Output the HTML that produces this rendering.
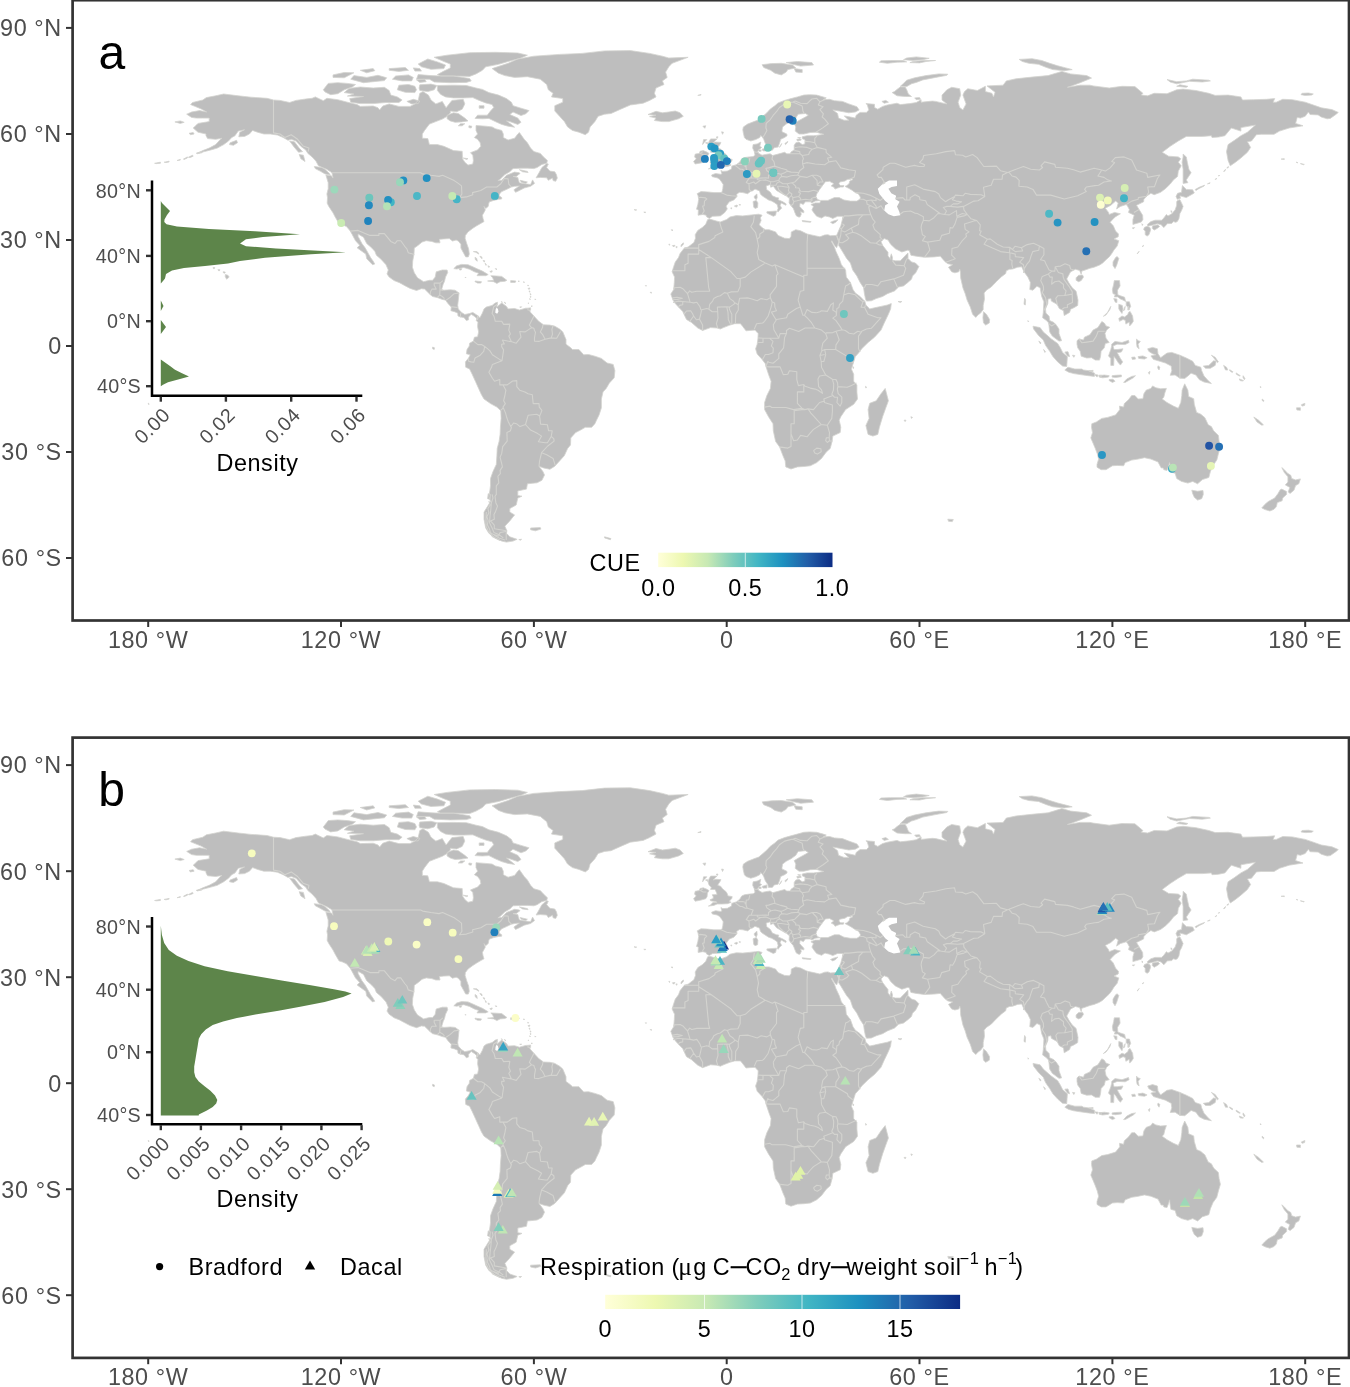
<!DOCTYPE html>
<html lang="en"><head><meta charset="utf-8"><title>Global sampling maps</title>
<style>html,body{margin:0;padding:0;background:#fff}body{width:1350px;height:1387px;overflow:hidden}svg{display:block}text{font-family:"Liberation Sans",Arial,Helvetica,sans-serif;letter-spacing:0.6px}</style>
</head><body>
<svg width="1350" height="1387" viewBox="0 0 1350 1387">
<defs>
<g id="world"><path d="M186.7 114.2L191.6 112.0L199.6 110.6L206.7 112.0L201.2 108.9L190.6 104.6L192.5 102.5L202.8 100.0L206.4 97.6L215.7 95.8L223.7 94.0L238.2 95.8L251.0 97.2L267.1 98.3L273.5 100.0L280.0 100.4L289.6 102.5L296.0 100.4L305.7 99.0L312.1 98.3L315.3 96.9L323.3 100.7L326.9 98.3L337.8 99.7L347.4 102.2L357.1 104.6L360.3 106.4L373.2 106.0L378.0 107.8L379.6 109.9L382.8 106.0L389.2 103.9L398.9 106.4L410.1 106.4L414.9 103.9L418.2 100.4L419.8 93.3L423.0 91.6L428.4 95.1L431.0 100.0L435.8 103.9L442.3 101.4L446.1 107.8L451.9 100.4L463.2 99.3L464.8 103.9L462.2 109.2L456.7 111.7L450.3 111.0L450.3 112.8L447.1 116.3L442.3 119.1L435.8 121.6L429.4 124.1L424.6 130.4L422.3 134.0L422.3 138.2L427.8 138.6L429.4 144.6L437.4 144.6L443.9 146.3L453.5 150.6L462.2 151.3L462.5 158.7L464.8 162.2L468.0 165.1L472.8 164.0L473.4 160.5L472.8 155.2L470.5 152.7L477.6 149.9L480.8 146.3L480.2 142.8L477.6 139.3L474.4 137.5L477.6 134.0L476.0 130.4L476.0 125.5L485.7 126.2L492.1 126.9L495.3 128.7L501.7 130.4L503.3 134.0L503.3 137.5L508.1 140.0L514.6 138.2L517.8 134.0L519.4 132.5L524.2 139.3L527.4 142.8L530.6 148.1L533.9 151.6L540.3 153.4L543.5 156.9L547.4 160.5L546.7 163.3L541.9 164.4L537.1 167.5L533.9 168.6L527.4 168.2L521.0 168.2L513.0 168.6L509.8 171.8L504.9 174.6L500.1 179.2L497.9 180.6L501.7 180.3L506.5 175.3L514.6 172.1L519.4 172.8L520.0 173.5L516.2 176.4L513.0 176.4L517.8 177.4L518.4 179.9L519.4 182.7L522.6 183.4L527.4 184.1L530.6 184.5L532.6 179.9L534.5 183.4L530.6 186.3L524.2 188.0L519.4 190.5L515.5 192.3L513.9 189.8L519.4 185.9L514.6 186.3L511.4 187.0L506.5 189.4L501.7 191.6L499.5 194.0L499.1 195.8L501.7 197.6L501.7 199.0L498.5 199.3L493.7 200.4L489.5 201.8L488.9 202.9L488.2 206.4L485.7 208.5L484.0 206.4L485.3 209.9L484.0 212.4L482.4 215.2L483.1 218.8L484.0 221.6L480.8 223.4L476.7 225.8L472.8 228.3L468.0 231.9L465.4 235.4L465.1 238.2L466.7 243.5L468.6 248.8L469.3 254.1L468.3 256.9L465.7 256.9L463.8 253.4L460.9 248.1L460.9 244.2L458.3 241.0L456.1 240.0L452.5 241.0L449.3 238.6L443.9 238.9L439.4 239.3L440.0 242.8L435.8 242.8L431.7 241.4L426.2 240.7L422.0 242.1L418.2 245.3L414.3 248.1L414.0 254.1L412.7 261.2L412.4 267.2L414.3 272.8L417.5 277.8L421.4 280.3L423.6 281.7L429.4 280.3L432.6 280.3L435.2 277.1L436.2 271.8L442.3 270.0L447.1 270.0L447.7 272.5L445.5 277.1L444.5 281.3L443.2 284.2L441.6 289.5L443.9 290.2L450.3 289.8L455.1 290.2L459.0 293.0L458.3 300.1L457.7 305.4L458.3 308.9L461.5 312.4L464.8 314.5L469.6 313.5L472.8 312.4L476.7 314.9L478.3 316.0L477.6 319.5L475.0 316.7L471.2 314.2L468.6 317.0L468.6 319.8L466.4 320.6L464.1 317.7L459.9 316.7L458.0 316.0L457.7 313.1L454.5 311.7L450.9 310.7L451.3 307.1L448.0 303.6L445.5 300.1L442.3 299.4L437.4 297.6L432.6 296.5L430.0 294.4L424.6 289.1L421.4 288.7L416.5 290.5L410.1 288.4L405.3 285.9L399.5 282.7L394.1 280.6L389.2 277.1L387.0 273.9L388.3 270.0L386.0 264.7L381.2 259.4L376.4 255.2L374.8 251.3L371.6 247.8L366.7 243.5L363.5 237.2L358.1 234.0L358.1 236.4L361.9 243.5L365.1 247.8L368.3 253.4L370.6 257.6L373.2 261.2L374.8 264.0L372.5 264.7L366.7 258.7L365.8 254.1L361.9 251.3L357.1 247.8L359.7 245.3L355.5 240.7L352.3 234.7L350.3 231.1L346.5 226.6L342.6 224.8L339.1 223.7L335.2 217.0L333.0 212.8L328.8 206.4L327.2 203.2L327.5 197.6L326.9 194.0L328.2 188.7L328.2 182.7L325.9 175.0L331.4 175.7L333.0 178.1L332.0 172.8L330.7 171.8L326.6 169.3L318.5 165.8L316.0 161.2L312.1 156.9L307.9 153.4L305.7 149.9L300.8 146.3L296.0 141.0L291.2 139.3L288.0 140.3L283.2 137.5L277.4 135.0L270.3 134.0L263.9 134.0L257.5 132.2L252.6 130.4L249.4 134.0L244.6 136.4L238.8 136.8L239.8 132.2L244.6 129.7L238.2 131.1L235.0 135.7L231.7 137.5L228.5 141.0L223.7 144.6L217.3 148.1L210.9 149.9L204.4 151.6L198.0 153.0L202.8 150.6L209.2 148.1L215.7 144.6L220.5 139.3L222.1 138.2L215.7 139.3L207.6 138.6L206.0 135.7L206.0 134.0L198.0 132.2L193.2 128.0L196.4 125.1L198.0 123.4L209.2 121.6L209.2 118.1L202.8 118.1L196.4 118.1L191.6 117.4ZM492.1 68.6L508.1 63.3L517.8 59.0L533.9 56.2L559.6 54.4L582.1 53.4L604.6 50.9L630.3 50.6L649.6 53.4L662.4 56.2L668.8 58.0L688.1 57.3L672.1 63.3L668.8 66.8L665.6 72.1L667.2 77.4L662.4 80.9L664.0 84.5L656.0 88.0L654.4 93.3L656.0 96.9L649.6 100.4L643.1 103.2L630.3 105.0L620.6 109.2L611.0 113.5L604.6 114.2L598.1 116.3L594.9 121.6L590.1 126.9L588.5 132.2L585.3 134.7L578.9 132.2L572.4 130.4L567.6 126.9L564.4 121.6L559.6 116.3L554.8 111.0L554.8 105.7L562.8 102.2L562.8 98.6L551.5 96.9L553.1 93.3L548.3 89.8L546.7 84.5L540.3 79.2L527.4 76.7L514.6 77.4L504.9 75.6L498.5 73.2ZM648.0 114.5L656.0 111.3L662.4 112.8L668.8 112.0L675.3 111.0L680.1 112.8L683.3 116.3L678.5 118.8L668.8 121.6L662.4 121.6L654.4 120.5L656.0 118.1L649.6 116.6L656.0 115.2ZM478.3 316.0L479.9 317.7L482.4 313.1L484.0 308.9L486.3 307.1L492.1 305.4L495.3 302.9L497.5 302.2L496.9 307.1L501.7 302.9L506.5 306.4L508.1 308.9L514.6 308.5L519.4 310.0L525.8 308.2L528.1 308.2L530.6 312.4L533.9 316.0L538.7 321.3L543.5 324.8L549.9 325.1L554.8 326.2L559.6 329.0L562.8 331.9L566.0 339.6L566.0 344.2L570.8 347.8L572.4 349.5L578.9 349.5L583.7 354.8L588.5 354.5L594.9 356.2L601.4 358.4L607.1 363.0L613.2 364.4L614.9 370.7L614.2 377.8L609.4 383.1L606.2 388.4L603.0 391.9L601.4 399.0L601.4 407.8L599.1 414.9L596.5 420.2L594.9 423.7L591.7 427.3L585.3 427.3L580.5 430.1L575.6 432.6L570.8 437.9L570.5 445.0L567.6 448.5L564.4 455.6L559.6 460.9L554.8 466.2L549.9 469.3L543.5 467.9L539.0 466.2L542.9 471.5L544.5 475.0L541.9 480.3L537.1 482.8L527.4 483.8L526.5 489.1L517.8 490.9L517.8 495.5L522.0 496.2L517.8 498.0L516.2 505.0L509.8 508.6L509.8 512.1L514.6 514.9L509.8 520.9L504.9 526.2L506.9 530.8L506.5 533.3L509.8 536.8L517.1 539.3L513.0 541.1L506.5 542.1L501.7 541.1L495.3 537.9L488.9 533.3L485.7 528.0L484.0 519.2L484.0 512.1L487.3 506.8L490.5 501.5L488.9 496.2L489.8 490.9L490.5 485.6L490.5 478.5L493.0 471.5L496.3 464.4L496.9 455.6L497.2 448.5L499.1 441.4L500.1 434.4L500.4 427.3L501.1 418.4L500.8 410.7L496.9 407.1L490.5 403.6L484.0 399.0L481.5 394.8L478.6 388.4L475.4 381.3L472.2 374.3L469.6 369.0L465.7 367.2L465.4 361.9L468.6 358.0L470.2 354.8L466.4 353.8L467.0 349.5L469.3 346.0L469.6 343.2L473.4 341.1L474.4 337.2L477.6 336.8L478.6 331.9L477.6 326.6L477.9 322.3L476.3 320.6L477.6 319.5ZM707.7 219.5L709.7 219.1L717.1 221.2L720.3 222.0L726.7 219.5L729.9 217.0L736.3 215.6L742.8 215.9L749.2 215.2L755.6 214.5L758.8 214.2L762.1 215.2L760.4 217.7L761.1 220.5L759.2 224.8L762.1 227.6L765.3 229.7L769.1 229.7L775.6 231.9L778.1 235.4L784.6 238.2L789.4 238.6L791.0 236.4L791.3 231.9L795.8 229.7L800.6 230.8L807.1 234.0L813.5 235.4L819.9 236.8L824.7 235.0L827.9 234.7L830.5 235.7L836.6 235.4L838.9 241.7L836.6 247.8L834.4 245.3L831.8 240.7L831.5 241.7L834.4 247.0L836.0 251.6L839.2 258.4L841.4 264.7L845.6 270.0L846.3 277.1L850.4 282.4L853.0 289.5L855.3 293.0L860.1 296.5L864.9 301.5L865.9 305.0L869.7 308.9L874.5 307.8L881.0 306.4L887.4 305.0L891.3 303.6L890.6 308.9L888.4 314.2L884.2 323.0L881.0 330.1L874.5 337.2L868.1 342.5L861.7 348.8L858.5 353.1L855.3 356.6L853.7 361.9L851.4 369.0L853.7 374.3L853.7 381.3L856.9 384.9L856.9 391.9L857.5 399.0L853.7 404.3L845.6 409.6L840.8 416.7L839.2 420.2L840.8 427.3L840.2 432.6L832.8 436.1L832.1 441.4L830.2 448.5L826.3 452.0L821.5 458.4L816.7 462.6L810.3 465.8L803.8 466.5L797.4 466.9L791.0 469.0L785.8 466.9L785.2 460.9L782.9 455.6L779.7 447.1L775.6 441.4L773.3 430.8L773.0 423.7L768.5 416.7L764.6 409.6L764.6 402.5L766.9 395.5L770.4 388.4L771.1 381.3L768.5 374.3L766.2 367.2L765.3 363.7L762.1 359.4L757.2 354.1L755.6 348.8L757.2 344.2L757.9 338.9L758.2 333.6L755.0 330.1L749.2 330.5L746.0 330.8L742.8 326.6L740.5 323.7L734.7 323.7L729.9 325.1L723.5 327.6L720.3 329.0L717.1 328.0L710.6 327.6L702.6 330.5L697.8 328.0L691.3 322.3L686.5 319.5L684.3 314.9L682.7 311.4L678.5 307.1L675.3 303.6L673.0 300.1L670.8 294.1L673.7 289.5L674.3 282.4L674.6 277.1L672.1 271.8L673.7 266.5L675.3 261.9L678.5 257.6L680.1 253.4L684.3 248.1L688.1 247.0L693.9 242.5L695.5 238.2L695.2 234.7L697.8 230.4L702.6 227.3L705.8 224.1ZM885.2 388.4L888.4 400.8L885.8 407.8L882.6 416.7L879.4 427.3L877.8 434.4L872.9 436.1L868.1 434.4L865.9 425.5L869.1 418.4L868.1 409.6L869.7 403.3L876.2 400.8L881.0 393.7ZM836.6 235.4L838.5 231.1L840.8 225.8L842.4 219.5L843.0 216.3L837.6 216.3L832.8 218.4L829.5 217.0L825.0 215.9L821.5 218.1L816.7 216.3L814.4 213.5L811.9 209.9L813.5 206.4L810.9 204.6L815.1 202.9L819.9 202.9L820.5 200.4L827.9 200.4L834.4 197.6L839.2 197.6L844.0 200.0L850.4 201.1L856.9 201.1L860.1 199.0L860.4 197.2L858.5 194.0L854.3 191.9L852.0 190.2L848.2 188.0L846.6 187.3L845.0 186.3L846.9 185.6L849.2 183.4L849.8 181.0L853.0 179.5L851.7 178.8L847.2 179.5L845.0 181.0L839.8 182.0L838.9 183.8L840.5 185.6L844.0 185.6L843.4 187.0L840.5 187.0L837.6 188.0L835.0 189.1L834.0 187.3L831.2 185.9L833.7 183.8L832.8 183.1L829.5 181.3L825.4 181.7L822.2 185.9L818.9 190.5L816.7 194.0L816.0 196.5L817.3 199.3L819.9 200.4L815.1 201.1L811.9 202.9L810.3 201.8L805.4 201.8L803.2 204.6L802.2 203.9L800.0 203.2L799.7 206.4L801.3 208.2L803.8 211.0L803.8 212.8L800.6 211.7L801.3 214.2L800.0 217.0L798.7 217.0L796.4 215.9L794.8 212.4L794.2 210.6L793.2 208.2L791.0 205.7L789.1 202.9L789.4 198.6L786.2 195.8L781.3 193.3L776.5 190.5L773.3 186.3L770.7 187.3L770.4 184.5L766.2 185.9L766.6 189.4L770.4 192.3L772.3 195.8L776.5 197.6L778.8 197.9L778.1 199.7L782.9 201.8L786.2 203.9L785.8 205.3L781.3 202.9L780.1 205.3L781.7 208.2L779.7 209.9L778.1 212.1L777.2 211.0L778.1 208.2L777.2 204.6L774.3 202.5L771.7 201.1L768.5 200.0L765.9 198.3L762.1 195.8L760.4 194.0L759.5 190.9L755.0 189.1L752.4 190.9L750.8 191.2L747.6 193.7L742.8 192.6L739.6 192.3L736.7 194.0L737.0 196.5L733.8 200.0L729.3 201.8L726.1 206.1L727.3 208.9L724.5 212.8L720.3 215.9L712.6 216.3L709.3 218.4L706.5 216.7L706.1 215.2L702.9 214.5L698.1 215.2L698.4 209.9L696.5 209.2L697.8 204.6L698.7 199.3L698.1 195.8L697.1 193.7L701.0 191.6L707.4 191.9L713.8 192.6L720.3 192.6L721.9 192.3L722.8 188.7L723.2 184.5L721.9 182.4L719.6 179.2L717.1 177.8L712.2 176.7L711.6 175.0L715.5 173.5L720.3 174.2L721.9 173.9L720.9 170.4L722.8 171.4L727.3 171.1L731.5 168.9L731.8 166.1L736.3 164.7L739.6 162.2L741.8 158.7L744.4 157.6L749.2 156.9L753.1 156.6L755.0 155.2L754.3 151.6L752.7 148.1L753.1 144.6L757.2 143.9L760.8 142.1L759.8 146.3L761.7 147.4L758.8 149.9L757.6 151.6L758.8 153.4L762.1 155.2L765.3 154.5L770.1 153.8L772.7 155.5L778.1 154.1L784.6 152.3L786.8 153.8L790.3 153.8L791.0 152.0L794.2 149.9L794.2 145.3L795.8 142.8L799.0 142.1L802.2 144.6L804.8 143.9L805.1 140.0L802.2 138.6L802.2 136.8L807.1 135.7L813.5 135.7L816.7 135.4L823.8 134.3L819.9 133.3L816.7 132.2L810.3 132.5L803.8 134.0L799.0 134.0L795.2 131.1L795.8 126.9L794.2 123.4L799.0 120.5L805.4 117.0L808.3 115.2L805.4 113.5L798.1 114.2L795.8 118.1L791.0 121.6L786.2 124.1L782.6 126.9L782.0 130.4L782.0 131.8L786.8 134.0L787.1 135.7L784.6 137.5L780.7 139.3L779.7 142.8L778.1 147.0L774.3 147.7L772.3 150.2L768.5 150.2L767.8 147.4L765.3 143.5L763.7 139.3L762.7 137.5L760.8 135.4L759.8 137.5L755.6 139.6L750.8 141.0L746.0 139.3L744.4 137.5L743.4 133.3L742.8 129.7L743.4 126.9L747.6 124.1L754.0 121.6L758.8 119.8L762.1 117.0L766.9 112.8L770.1 109.2L774.9 105.7L778.1 102.9L784.6 100.4L791.0 98.6L797.4 96.9L803.8 95.1L809.6 94.7L816.7 95.1L823.1 96.9L826.3 97.9L823.1 99.7L829.5 99.3L834.4 100.7L842.4 101.4L848.8 103.9L856.9 106.7L859.1 109.9L855.3 112.0L848.8 112.8L839.2 111.0L832.8 109.9L837.6 113.5L838.5 118.1L844.0 120.2L848.8 120.2L846.3 118.1L844.3 115.9L850.4 117.0L855.3 118.1L856.2 115.2L860.1 112.4L866.5 112.4L868.8 109.9L867.2 104.6L865.9 103.6L874.5 104.3L874.5 107.5L877.8 109.2L882.6 106.4L887.4 105.0L897.0 103.2L900.3 104.6L909.9 103.6L916.3 102.5L921.1 99.7L921.1 102.2L932.4 101.1L935.6 101.4L942.0 102.9L946.9 103.9L942.0 100.0L942.0 95.1L946.9 89.8L951.7 87.3L959.7 88.7L960.7 95.1L958.1 102.2L959.7 107.5L962.9 109.9L966.1 103.9L962.9 95.1L964.5 91.6L967.8 88.7L977.4 90.5L985.4 86.3L985.4 91.6L991.9 93.3L993.5 96.9L995.1 92.3L987.0 85.9L1003.1 85.2L1006.3 80.9L1016.0 78.8L1032.0 77.1L1048.1 75.6L1061.9 71.4L1070.6 73.9L1086.7 75.6L1091.5 78.1L1080.2 82.7L1070.6 86.3L1067.4 87.3L1080.2 85.2L1089.9 85.2L1093.1 85.9L1109.2 88.0L1122.0 86.3L1134.9 86.6L1142.9 93.3L1141.3 95.1L1147.7 95.8L1154.2 93.3L1167.0 93.7L1176.7 89.8L1183.1 89.1L1195.9 90.5L1208.8 93.3L1215.2 95.4L1228.1 95.1L1240.9 96.9L1242.5 100.0L1253.8 99.7L1266.7 99.3L1274.7 98.6L1273.1 102.2L1276.3 102.2L1282.7 99.3L1292.4 99.7L1305.2 102.2L1313.3 105.0L1321.3 107.8L1331.9 109.6L1338.3 112.4L1335.8 114.5L1330.3 118.4L1327.1 118.8L1321.3 117.0L1318.1 114.9L1310.0 114.5L1308.4 112.0L1305.2 116.3L1300.4 118.1L1297.2 117.4L1295.6 123.4L1303.0 125.8L1289.2 128.0L1279.5 131.1L1274.0 134.3L1261.2 134.3L1256.4 134.7L1251.5 141.0L1247.4 141.7L1250.6 147.4L1247.4 152.3L1240.9 158.0L1235.5 162.2L1230.3 165.8L1228.1 160.5L1226.5 151.6L1228.1 144.6L1234.5 140.3L1240.9 135.7L1247.4 132.2L1252.2 128.0L1255.4 125.1L1240.9 127.6L1240.9 131.1L1231.3 128.0L1224.9 135.7L1218.4 137.1L1212.0 137.5L1211.4 135.7L1202.4 136.4L1186.3 136.4L1178.3 141.0L1170.2 146.3L1162.2 152.3L1167.0 155.2L1168.6 156.2L1178.3 156.9L1180.8 158.7L1178.3 162.2L1181.2 165.8L1178.3 171.1L1177.6 176.4L1173.4 179.9L1170.2 184.1L1165.4 188.7L1160.6 192.3L1154.2 194.7L1150.9 193.3L1147.1 195.8L1143.9 199.3L1143.6 201.8L1136.5 205.3L1139.1 209.6L1142.6 215.2L1142.9 219.5L1141.3 222.0L1136.5 223.4L1132.9 224.4L1132.9 219.5L1134.2 215.2L1128.5 212.4L1129.4 209.6L1127.5 206.1L1126.2 204.6L1120.4 206.4L1116.6 208.9L1118.2 202.9L1115.6 201.1L1110.8 205.3L1105.3 208.2L1108.5 212.4L1109.2 214.5L1114.6 212.4L1120.4 213.8L1115.6 216.7L1113.3 218.8L1110.1 222.3L1113.3 225.8L1115.6 231.1L1118.5 234.0L1118.2 236.8L1114.0 238.9L1118.8 240.7L1117.2 246.0L1114.0 249.9L1111.4 254.1L1109.2 256.9L1106.0 259.8L1102.7 263.0L1099.5 265.1L1094.1 267.2L1089.9 268.3L1085.1 270.0L1081.8 271.1L1081.2 274.3L1079.6 270.4L1075.4 269.3L1070.6 271.8L1069.6 273.6L1066.7 278.9L1069.0 283.1L1072.2 287.7L1076.1 291.2L1078.0 300.1L1077.7 305.4L1073.8 307.8L1070.6 309.2L1069.6 312.4L1064.2 315.6L1063.5 310.7L1059.3 308.5L1057.1 304.3L1051.3 301.1L1051.0 298.6L1048.1 299.0L1047.8 303.6L1045.5 308.9L1045.9 313.1L1049.1 316.3L1049.7 320.6L1053.6 322.3L1056.1 324.8L1059.0 329.0L1059.0 333.6L1061.6 340.7L1059.0 341.1L1052.3 336.1L1049.7 331.9L1049.1 326.6L1048.7 323.0L1046.5 320.6L1042.6 317.7L1043.3 312.4L1043.6 307.1L1043.9 301.8L1041.7 296.5L1040.7 291.2L1040.1 287.7L1036.9 286.3L1033.0 290.2L1029.8 289.5L1030.4 282.4L1027.9 277.1L1024.0 271.8L1021.7 266.8L1017.6 267.2L1012.7 269.0L1009.5 269.3L1006.3 270.7L1005.7 273.6L1001.5 276.7L996.7 281.3L991.2 287.0L986.4 290.2L984.1 293.0L984.5 299.0L983.2 305.4L983.2 309.6L980.6 313.1L978.0 314.9L975.8 317.4L972.6 314.2L970.3 307.1L967.1 300.1L965.2 293.7L962.9 287.7L961.3 280.6L960.7 278.1L960.4 271.8L959.7 269.0L958.8 271.8L954.9 272.8L951.7 271.8L948.5 267.2L952.6 264.7L947.8 263.7L945.3 261.9L943.0 259.4L941.4 257.6L940.4 256.2L934.0 256.9L924.4 257.3L916.3 256.2L910.9 255.2L909.3 250.6L907.6 250.2L901.9 252.0L895.4 248.8L890.6 244.2L888.0 240.0L884.2 238.6L882.6 240.0L881.0 241.7L882.6 245.3L885.8 249.5L888.0 252.3L888.0 255.9L890.0 258.4L891.3 253.8L892.5 257.6L892.2 260.1L895.4 260.8L900.3 260.8L904.4 256.6L907.0 253.8L908.0 253.1L908.0 258.4L911.5 261.9L915.4 263.0L918.9 266.5L915.7 272.8L912.5 276.0L911.5 279.2L907.6 282.7L903.5 285.9L898.6 287.0L894.5 290.9L887.4 293.7L882.6 296.5L876.2 298.6L871.3 300.8L866.5 301.1L865.5 299.0L864.3 293.0L863.6 287.7L860.1 282.4L856.9 276.0L852.7 270.0L850.4 263.0L846.6 258.4L844.0 254.1L840.2 247.8L838.5 245.3L839.2 241.7ZM708.4 168.9L713.8 168.2L717.1 166.8L721.9 166.8L727.7 166.5L731.2 165.1L729.3 164.0L731.8 161.2L732.2 159.4L728.0 158.7L727.3 156.6L726.1 154.5L722.5 151.6L720.9 149.2L717.7 148.1L718.7 146.3L720.3 143.9L720.9 142.4L715.5 142.1L713.2 142.8L715.5 140.3L717.1 138.9L710.6 138.9L709.0 141.7L708.1 144.6L708.7 147.0L709.7 148.8L711.3 149.9L710.6 152.3L715.1 152.3L716.4 155.2L717.1 157.3L712.2 157.6L713.2 159.4L713.2 161.2L710.0 162.6L710.6 163.6L715.5 164.4L717.1 165.1L712.9 165.4L710.0 168.2ZM706.8 152.0L709.0 153.4L707.4 155.9L707.1 159.4L705.8 161.5L701.0 162.9L695.2 164.0L693.6 161.5L696.2 158.7L694.6 156.9L695.2 154.1L699.4 153.4L700.0 151.3L703.2 150.6ZM762.1 64.7L771.7 63.6L781.3 63.3L792.6 65.0L795.8 67.9L787.8 69.6L786.2 72.1L781.3 74.9L774.9 73.2L770.7 70.3L763.7 67.5ZM786.2 62.6L797.4 61.5L811.9 62.6L813.5 65.0L800.6 66.1L792.6 64.3ZM794.2 68.6L802.2 69.6L802.2 72.5L795.8 72.1ZM892.2 92.6L897.0 95.8L905.1 96.5L911.5 96.5L908.3 94.0L906.7 89.8L905.1 87.0L900.3 87.0L897.0 89.4L894.5 91.6ZM900.3 86.3L906.7 86.6L911.5 83.8L916.3 82.4L922.8 79.9L935.6 77.4L946.9 75.3L947.8 74.2L938.8 73.9L926.0 75.6L914.7 77.8L906.7 80.2L903.5 83.4ZM1019.2 59.4L1032.0 58.7L1041.7 60.5L1049.7 63.3L1057.7 65.8L1065.8 67.9L1072.2 69.6L1064.2 70.7L1052.9 69.6L1046.5 67.5L1038.5 64.3L1028.8 63.3L1022.4 61.5ZM1167.0 79.5L1176.7 81.7L1186.3 80.9L1192.7 79.2L1208.8 80.2L1210.4 80.9L1202.4 82.0L1189.5 81.3L1176.7 83.8L1170.2 82.0ZM1176.7 86.3L1186.3 87.3L1187.9 86.3L1179.9 84.8ZM1301.0 94.7L1305.2 95.4L1311.6 95.1L1313.3 94.0L1308.4 93.0L1302.0 93.3ZM879.4 62.2L887.4 63.3L897.0 62.2L906.7 61.9L903.5 60.5L890.6 60.5L881.0 60.8ZM903.5 59.7L913.1 60.5L922.8 59.7L929.2 58.3L916.3 56.9L906.7 58.0ZM909.9 62.6L919.5 62.9L926.0 61.5L935.6 60.5L922.8 60.5L913.1 61.5ZM1183.1 154.1L1186.3 156.9L1187.3 162.2L1188.9 169.3L1191.1 172.8L1186.3 179.9L1187.9 182.7L1183.1 183.4L1183.1 176.4L1183.1 169.3L1182.1 162.2L1183.1 156.9ZM1177.3 199.3L1180.5 198.3L1179.9 195.8L1186.3 197.6L1194.3 193.0L1192.7 189.8L1186.3 189.4L1182.4 185.6L1181.5 192.3L1177.6 193.3L1176.0 196.5ZM1179.9 199.7L1181.5 202.9L1183.1 206.4L1181.5 210.6L1179.9 213.5L1178.9 218.8L1177.3 221.6L1175.7 222.3L1173.4 221.6L1171.8 223.4L1167.0 223.7L1166.4 224.8L1163.8 227.6L1161.2 224.8L1157.4 223.7L1152.6 225.1L1147.7 226.2L1147.4 224.4L1150.9 221.6L1155.1 220.2L1161.6 220.2L1163.8 218.1L1166.4 214.5L1168.0 215.9L1171.8 213.8L1175.1 209.9L1176.7 205.3L1176.7 201.8L1177.6 200.4ZM1147.4 226.2L1150.0 227.6L1150.6 230.1L1149.0 234.7L1147.1 236.1L1145.2 234.7L1145.2 231.1L1143.6 229.4L1144.5 227.3ZM1152.6 225.8L1158.0 224.8L1159.6 226.6L1157.4 228.3L1154.2 230.1L1152.2 228.3ZM1117.2 256.6L1118.8 258.4L1116.6 265.4L1115.0 268.6L1113.0 265.4L1113.0 261.9L1115.6 257.6ZM1076.1 277.8L1078.6 275.3L1082.5 275.0L1083.5 277.1L1081.2 280.6L1078.6 281.7L1076.1 280.3ZM1114.3 280.6L1119.5 280.6L1120.1 285.9L1117.5 290.2L1117.8 294.8L1120.4 295.8L1124.6 297.2L1125.6 301.5L1123.0 300.1L1120.4 299.0L1117.8 296.9L1114.3 296.9L1115.3 294.4L1113.0 293.7L1112.4 289.5L1113.7 284.2ZM1130.1 311.4L1132.6 316.0L1133.3 321.3L1131.7 323.7L1129.7 325.9L1129.1 322.0L1125.9 324.1L1125.2 320.2L1123.0 319.5L1119.5 321.3L1118.8 318.4L1122.0 316.0L1124.6 317.0L1127.8 314.5L1128.5 312.4ZM1126.2 301.8L1129.4 301.8L1130.7 306.4L1128.5 310.0L1127.8 307.1L1126.2 305.4ZM1118.8 304.3L1122.3 305.4L1123.0 308.9L1122.0 313.5L1120.4 311.4L1118.8 308.9ZM1103.4 316.3L1107.6 312.4L1110.8 306.4L1109.8 309.6L1106.0 314.9ZM1113.7 298.6L1116.9 299.0L1116.9 302.5L1115.3 302.2ZM1077.0 340.7L1079.0 338.9L1083.5 340.0L1084.4 337.2L1089.9 334.7L1093.1 330.1L1097.9 327.6L1101.8 321.6L1104.3 323.0L1106.0 325.9L1109.8 327.3L1106.6 330.1L1105.0 333.6L1106.0 338.2L1109.2 342.5L1105.3 343.5L1104.3 347.8L1101.1 351.3L1100.5 356.6L1099.5 360.1L1095.3 360.1L1091.5 357.7L1086.7 358.0L1081.2 356.2L1080.2 351.3L1077.7 347.8L1077.0 344.2ZM1033.0 326.2L1040.1 327.6L1043.3 331.9L1048.1 336.1L1051.3 338.9L1057.7 343.5L1060.3 347.8L1062.6 352.4L1067.4 356.6L1066.7 366.5L1062.6 366.1L1057.7 361.9L1052.9 356.6L1049.7 351.3L1045.5 345.3L1043.3 340.0L1038.5 335.4L1033.6 329.0ZM1064.8 370.0L1068.0 367.2L1074.8 369.0L1081.8 369.0L1083.5 370.0L1088.9 370.7L1094.7 373.2L1094.4 376.4L1088.3 375.7L1080.2 374.6L1073.8 373.6L1068.7 372.2ZM1111.7 344.2L1115.0 341.4L1122.0 342.5L1128.5 340.3L1129.1 342.5L1125.2 344.6L1117.2 344.2L1113.0 346.0L1114.0 349.5L1117.2 349.5L1123.0 348.8L1121.4 352.0L1117.2 352.7L1120.4 358.4L1122.7 361.9L1120.4 365.1L1118.2 362.6L1115.6 358.4L1114.0 356.6L1113.7 365.4L1110.8 365.4L1110.8 358.4L1108.5 355.9L1110.8 349.5L1111.7 346.0ZM1147.7 348.8L1152.6 347.4L1157.4 348.8L1158.0 353.8L1160.6 357.7L1167.0 353.1L1171.8 352.4L1179.9 355.2L1186.3 358.0L1192.7 361.2L1195.3 365.4L1200.8 367.2L1201.7 370.7L1204.0 376.0L1208.8 381.3L1211.4 383.5L1204.0 382.0L1199.2 379.6L1195.9 375.0L1191.1 373.2L1187.9 376.0L1184.7 378.5L1179.9 378.2L1175.1 375.0L1170.2 375.3L1171.8 370.7L1171.2 366.1L1165.4 363.0L1160.6 361.5L1155.8 360.1L1153.5 359.4L1150.9 355.9L1155.8 354.8L1152.6 353.8L1148.7 351.3ZM1123.6 382.4L1126.8 378.9L1131.7 376.4L1135.5 375.7L1133.3 377.8L1128.5 380.6L1125.2 382.4ZM1112.1 375.7L1115.6 375.3L1121.4 375.0L1121.4 376.7L1115.6 377.5L1112.1 377.1ZM1098.9 375.3L1101.8 375.3L1104.3 375.0L1109.2 375.7L1108.5 377.1L1102.7 377.8L1099.2 377.1ZM1109.2 379.6L1113.0 379.2L1115.0 381.3L1112.4 382.4L1109.2 380.6ZM1136.5 338.9L1138.1 340.7L1140.3 341.4L1138.1 344.2L1139.1 348.8L1137.1 347.1L1136.5 343.2ZM1138.1 356.6L1142.9 355.9L1147.1 357.7L1144.5 359.1L1138.7 358.4ZM1131.7 357.3L1134.9 357.0L1135.5 359.1L1132.3 359.4ZM983.5 311.7L986.4 314.2L989.6 319.5L989.3 323.0L985.7 325.1L983.5 323.0L982.9 317.7ZM1091.8 423.7L1093.7 423.0L1096.3 422.0L1101.8 418.4L1107.6 417.4L1115.6 414.9L1119.8 409.6L1119.5 406.1L1123.6 407.1L1124.3 403.6L1128.5 399.7L1131.7 395.5L1134.9 395.5L1138.1 399.0L1142.9 398.7L1143.9 393.7L1146.1 390.2L1150.9 388.4L1152.6 385.9L1155.8 387.7L1160.6 388.8L1166.4 388.4L1164.8 393.0L1163.8 397.2L1162.2 399.0L1167.0 402.5L1173.4 406.1L1178.3 408.2L1180.8 402.5L1181.8 395.5L1182.1 390.2L1184.7 383.8L1187.9 390.2L1188.6 396.5L1193.7 398.7L1194.3 404.3L1196.6 412.4L1200.8 414.2L1204.9 417.7L1208.2 424.8L1211.4 426.6L1213.6 430.8L1218.4 435.4L1219.1 441.4L1220.4 447.1L1218.4 453.8L1216.8 460.1L1213.0 465.4L1210.4 471.5L1208.8 477.5L1202.4 479.6L1197.6 483.8L1192.7 481.4L1187.9 483.1L1181.5 481.4L1176.7 478.5L1175.1 473.2L1170.9 472.2L1170.2 467.9L1169.6 462.6L1168.6 466.2L1167.0 470.4L1163.8 469.7L1163.2 467.9L1161.2 467.9L1158.0 461.9L1150.9 459.1L1144.5 457.7L1138.1 459.1L1131.7 460.1L1125.2 462.6L1123.6 465.8L1117.2 465.4L1112.4 465.8L1106.0 469.7L1101.1 469.7L1097.0 467.2L1097.0 464.4L1098.6 459.1L1097.3 453.8L1095.3 448.5L1093.1 443.2L1090.8 437.9L1092.5 432.6L1091.5 427.3ZM1191.8 490.2L1197.6 491.2L1203.0 490.5L1203.3 494.4L1201.7 498.7L1197.6 500.1L1194.3 497.3L1192.7 493.7ZM1281.8 467.6L1284.3 469.7L1287.5 473.2L1290.8 475.3L1291.7 478.5L1295.6 479.9L1300.4 478.9L1298.8 483.8L1295.6 485.6L1294.0 490.2L1290.1 493.4L1288.2 492.0L1289.8 487.4L1285.3 484.9L1287.9 482.1L1287.9 476.8L1284.3 472.5ZM1281.8 489.1L1286.6 491.6L1286.6 494.4L1282.7 498.0L1282.1 500.8L1277.3 502.6L1276.3 506.8L1274.0 509.3L1269.9 511.0L1265.0 509.6L1261.8 507.9L1265.0 504.3L1268.3 501.5L1274.7 498.0L1277.9 493.7L1280.2 489.8ZM1203.3 366.1L1208.8 365.4L1213.6 360.8L1216.2 361.2L1215.2 365.4L1210.4 368.3L1205.6 368.3ZM1211.4 355.2L1215.2 357.3L1218.4 361.9L1217.5 362.6L1213.6 357.7ZM1223.6 365.4L1226.5 367.2L1227.8 370.0L1225.5 370.0ZM1239.3 378.9L1243.5 380.6L1242.5 381.0L1240.0 380.6ZM1229.7 369.7L1232.9 371.8L1232.3 372.5L1229.7 370.7ZM1236.1 372.9L1240.3 375.7L1239.3 376.0L1236.4 374.3ZM1243.2 375.7L1245.1 378.9L1244.2 379.6L1242.9 377.1ZM1253.8 417.0L1258.6 420.2L1263.4 424.8L1261.8 425.2L1257.0 422.0ZM1262.2 399.0L1264.1 400.8L1263.4 401.5L1262.2 400.4ZM1296.5 407.8L1300.4 407.8L1300.4 410.3L1296.9 410.0ZM1301.4 404.7L1304.9 403.3L1304.6 405.4L1302.0 406.1ZM437.4 85.5L453.5 85.2L466.4 85.5L476.0 88.0L482.4 89.4L488.9 92.6L498.5 95.1L506.5 98.6L511.4 102.2L513.0 105.7L521.0 108.2L529.0 110.6L525.8 113.8L521.0 115.6L513.0 112.0L509.8 114.5L517.8 118.1L521.0 122.3L517.8 124.4L509.8 121.6L506.5 120.9L513.0 125.8L514.6 127.2L508.1 126.2L501.7 124.4L495.3 121.6L488.9 118.4L482.4 118.8L475.0 118.4L477.6 115.2L487.3 115.2L490.5 111.0L493.7 107.5L492.1 104.6L485.7 102.9L479.2 100.4L472.8 97.6L463.2 97.9L453.5 97.9L445.5 96.9L440.7 94.4L437.4 90.5ZM447.1 115.2L453.5 112.8L458.3 113.5L464.8 118.1L468.0 120.9L461.5 121.9L455.1 122.3L450.3 120.9L447.1 118.8ZM460.6 123.7L464.8 123.7L462.2 125.8L458.3 125.8ZM468.9 125.8L471.8 126.2L471.2 128.0L468.9 127.6ZM350.7 102.2L360.3 103.6L373.2 103.6L386.0 102.5L398.9 102.5L402.1 100.0L397.3 96.9L390.8 95.1L389.2 90.5L384.4 87.3L373.2 88.0L360.3 87.0L349.1 88.4L344.2 92.6L353.9 94.0L347.4 96.1L363.5 96.5L349.7 98.6ZM325.0 91.9L330.7 94.7L337.8 93.7L344.2 89.8L352.3 87.0L355.5 84.5L347.4 83.4L337.8 82.7L328.2 83.4L326.6 85.5L323.3 89.8ZM398.9 85.2L408.5 84.5L414.9 86.3L416.5 89.8L414.9 92.6L405.3 92.3L397.3 89.8ZM419.8 84.8L431.0 84.1L436.8 85.5L434.2 89.8L427.8 91.6L419.8 90.5L419.1 88.0ZM406.9 101.4L413.3 99.3L419.8 101.1L418.2 103.6L411.7 103.9ZM418.2 74.6L431.0 75.6L440.7 76.0L453.5 76.0L469.6 78.5L471.2 80.9L466.4 82.4L450.3 82.7L434.2 82.0L429.4 79.2L416.5 79.2ZM416.5 79.9L424.6 79.2L426.2 81.7L419.8 82.4ZM392.4 79.2L402.1 80.9L411.7 80.9L413.3 77.4L408.5 74.9L395.7 76.0ZM350.7 79.2L363.5 82.7L373.2 81.7L384.4 80.6L386.7 77.8L378.0 75.3L366.7 77.4L353.9 75.6ZM333.0 77.4L344.2 77.8L353.9 72.8L344.2 72.5L333.0 74.9ZM440.7 76.0L456.7 76.0L469.6 76.4L476.0 73.9L482.4 70.3L485.7 66.8L498.5 64.3L508.1 61.5L521.0 58.0L527.4 55.2L517.8 53.0L495.3 52.3L469.6 52.7L447.1 55.2L434.2 57.3L443.9 61.5L450.3 64.0L450.3 67.9L443.9 71.1L437.4 74.6ZM418.2 64.0L427.8 59.0L437.4 61.9L445.5 65.0L443.9 68.6L431.0 69.3L421.4 66.8ZM389.2 68.6L405.3 67.5L408.5 70.3L398.9 71.4L389.2 70.3ZM413.3 67.9L419.8 68.6L421.4 71.1L414.9 71.1ZM360.3 70.3L373.2 68.6L374.8 70.7L366.7 72.8ZM479.2 105.7L484.0 105.7L484.0 108.2L479.2 108.2ZM463.2 158.0L468.0 158.7L466.4 159.4ZM519.4 169.7L527.4 171.4L528.1 172.5L522.6 171.8ZM520.0 180.3L527.4 182.0L525.8 183.4L521.6 182.4ZM536.1 177.8L539.0 172.8L541.9 167.5L546.7 163.6L548.3 164.0L546.7 167.5L548.3 169.3L549.9 171.1L554.8 171.8L556.4 174.6L557.3 178.1L555.7 181.3L553.1 180.6L552.5 178.1L548.3 180.3L546.7 177.8L540.3 177.4ZM314.3 166.5L321.7 167.5L325.0 169.3L329.8 173.9L330.1 175.0L325.0 173.9L320.1 171.1L315.3 168.6ZM299.2 154.5L303.4 155.2L305.0 161.5L300.8 158.7ZM289.6 141.0L294.4 141.7L299.2 148.1L302.5 151.6L298.6 152.3L294.4 147.4ZM230.1 142.8L236.6 140.3L237.5 142.8L233.4 145.3L229.5 144.6ZM196.4 153.0L201.9 151.6L202.2 152.7L197.0 153.8ZM188.4 157.3L192.5 155.2L193.2 156.2L190.0 157.6ZM183.5 159.1L187.4 156.9L187.4 158.0L184.2 159.4ZM177.1 160.5L180.3 159.4L180.3 160.1ZM164.2 162.2L169.1 161.2L169.1 161.9L165.9 162.6ZM154.6 163.3L160.4 162.2L160.4 163.3L156.2 163.6ZM1281.1 159.1L1284.3 158.7L1284.3 159.4ZM1300.4 163.6L1304.3 164.4L1303.6 164.7ZM1296.2 162.2L1297.8 162.6L1297.2 162.9ZM174.9 121.9L180.3 120.9L184.2 122.3L180.3 123.4ZM189.0 133.3L193.2 132.5L194.1 134.0L190.6 134.7ZM225.3 274.6L227.9 275.3L229.2 277.1L226.6 279.2L225.3 276.7ZM223.1 271.8L225.3 272.1L224.7 273.2L223.4 272.8ZM217.9 269.7L219.9 269.7L219.5 270.7L218.6 270.7ZM213.1 267.5L214.7 267.5L214.4 268.6L213.4 268.6ZM453.8 268.6L456.7 265.8L461.5 264.4L468.0 264.7L472.8 266.8L477.6 269.0L482.4 271.1L488.2 274.6L485.7 275.7L477.0 275.7L478.6 273.2L474.4 271.8L469.6 269.3L463.8 267.5L459.9 268.3L456.7 269.0ZM490.8 275.7L496.3 276.0L501.7 276.4L506.9 280.3L504.9 281.3L500.1 281.7L496.9 283.4L493.7 281.7L487.6 281.0L493.7 280.3L492.7 277.8ZM475.0 281.0L481.5 281.7L480.8 283.1L477.6 283.1L475.0 281.7ZM510.7 280.6L515.9 281.0L515.2 282.4L510.7 282.4ZM475.0 257.3L476.7 258.4L477.3 261.2L475.4 259.8ZM473.4 251.6L476.7 251.6L478.6 253.1L478.6 254.1L476.0 252.3ZM489.8 271.4L492.1 271.1L491.4 272.1ZM527.8 308.2L530.6 307.8L530.6 310.3L527.8 310.3ZM530.6 528.0L540.3 527.6L540.9 529.1L535.5 530.8L530.6 529.8ZM518.8 539.5L521.6 539.3L520.4 540.2ZM604.6 536.8L611.0 538.6L610.4 539.7L604.6 537.9ZM766.9 211.7L776.5 211.0L775.6 215.2L773.3 216.3L766.9 213.1ZM753.1 201.5L756.3 200.4L757.9 202.9L757.6 207.5L755.0 208.5L753.7 207.1ZM754.3 196.2L756.9 194.0L757.2 197.6L756.3 199.7L754.3 197.9ZM802.2 220.5L811.2 221.6L810.3 222.3L802.6 221.6ZM830.5 222.3L832.8 221.2L837.9 219.8L835.7 222.3L832.8 223.7ZM734.4 206.1L737.0 205.0L737.6 206.1L736.3 207.1ZM730.6 208.2L731.8 207.8L731.5 208.9ZM738.9 204.6L740.5 204.6L740.2 205.3ZM762.1 149.2L766.9 147.7L766.9 150.9L763.0 150.9ZM758.2 149.9L761.1 149.9L761.1 151.3L758.8 151.3ZM784.9 143.5L787.8 141.4L787.1 143.1L785.5 144.6ZM779.4 147.4L781.7 143.5L781.0 145.3ZM796.8 139.3L800.6 138.9L801.3 140.0L797.4 141.0ZM797.7 137.5L800.6 137.5L800.0 138.6ZM702.9 126.2L705.8 125.8L704.8 128.3ZM721.6 131.8L723.5 132.2L722.5 134.3ZM716.1 137.1L718.0 136.8L717.4 138.2ZM703.6 139.6L706.8 139.6L704.2 142.4L702.6 144.6ZM705.5 142.8L707.4 142.4L708.1 144.2ZM898.0 301.5L901.9 301.5L900.3 302.5ZM672.4 245.6L675.0 245.3L673.7 247.0ZM675.9 246.7L677.2 246.7L676.6 248.1ZM681.1 244.9L683.3 242.8L683.6 243.9L681.1 246.7ZM668.8 244.2L669.8 244.2L669.5 245.3ZM650.2 292.3L651.5 292.3L651.2 293.3ZM645.4 285.6L646.4 285.6L646.0 286.3ZM643.8 212.1L645.7 212.1L645.1 212.8ZM634.1 209.6L636.7 209.9L635.4 210.3ZM671.4 229.7L673.0 230.1L672.1 230.8ZM910.9 416.7L912.5 417.4L911.5 418.4ZM904.1 420.2L906.0 420.2L905.1 421.6ZM865.5 386.3L866.5 387.0L865.9 388.1ZM947.8 519.2L953.3 519.5L952.3 521.6L948.5 521.3ZM1195.3 189.4L1199.2 187.3L1204.6 185.2L1204.0 186.1L1199.2 188.4L1195.9 190.5ZM1207.5 183.8L1210.1 182.7L1209.8 183.4ZM1215.2 179.5L1216.5 178.1L1216.2 179.2ZM1218.4 176.0L1219.4 175.0L1219.1 176.0ZM1223.6 171.4L1225.5 169.3L1224.9 171.1ZM1226.8 167.9L1228.4 166.5L1228.1 167.9ZM1137.1 253.8L1139.1 251.3L1138.1 253.1ZM1142.3 246.3L1143.6 245.3L1142.9 246.7ZM1024.6 298.3L1025.6 300.1L1025.3 305.0L1024.0 304.3ZM1027.9 320.6L1028.5 321.3L1028.2 322.0ZM881.9 101.4L885.8 100.4L888.4 102.2L884.2 103.2ZM914.7 97.9L919.5 97.6L920.5 99.3L916.3 99.7ZM697.8 95.4L701.0 94.4L701.0 95.1ZM1064.8 352.0L1068.0 351.7L1069.6 356.6L1067.4 355.9ZM1072.5 355.2L1074.8 355.5L1073.8 357.3ZM1094.7 374.6L1098.2 375.0L1097.0 377.1ZM1099.5 375.3L1101.8 375.3L1100.8 377.5ZM1088.9 370.7L1093.1 370.4L1093.1 371.4L1089.2 371.4ZM1038.8 341.1L1041.0 342.8L1040.4 343.9ZM1043.6 349.5L1045.5 351.7L1044.9 352.4ZM1158.0 365.8L1159.9 367.2L1159.0 370.0L1157.7 367.9ZM1148.4 372.5L1150.0 371.4L1149.3 374.3ZM1128.5 306.1L1129.4 309.6L1127.8 310.0ZM1123.3 310.7L1125.2 306.4L1124.6 310.0ZM852.7 366.5L853.7 367.2L853.3 368.6ZM1260.2 386.6L1261.2 387.0L1260.5 387.7ZM1132.3 228.0L1134.6 227.6L1133.6 228.7ZM1141.9 223.7L1142.9 224.8L1142.3 225.5ZM1170.9 210.6L1172.2 211.7L1171.2 212.4ZM488.2 493.7L490.5 494.4L490.1 499.4L487.6 498.7ZM432.6 347.1L434.5 347.8L434.2 349.5L432.6 348.8ZM519.7 307.1L521.6 306.8L521.0 307.5ZM528.1 288.4L530.0 288.0L529.0 289.5ZM530.0 293.7L531.0 294.1L530.6 295.1ZM148.2 403.3L148.8 403.3L148.8 404.7ZM479.9 256.2L481.8 256.9L482.1 258.7L481.2 258.0ZM483.1 260.5L484.7 260.8L484.4 262.2ZM485.0 263.3L486.3 264.4L486.0 265.4ZM487.9 265.8L489.5 266.5L488.9 267.5ZM490.1 271.8L492.1 270.7L491.8 272.1ZM495.3 268.6L496.9 269.0L496.3 269.7ZM518.1 281.0L519.4 281.0L518.8 281.7ZM523.6 281.7L524.5 282.0L523.9 282.7ZM527.6 285.2L528.6 285.4L528.1 286.1ZM529.0 290.9L530.0 291.2L529.7 292.3ZM530.3 296.2L531.0 296.5L530.6 297.6ZM529.7 298.6L530.3 299.0L530.0 299.7ZM528.1 302.9L528.7 302.9L528.4 303.6ZM534.8 299.0L535.8 299.4L535.3 299.9ZM501.4 301.5L502.4 302.2L502.0 302.5ZM504.3 302.2L505.9 303.2L505.3 303.6ZM531.0 306.1L532.3 305.9L531.9 306.6ZM465.1 277.4L466.0 277.6L465.7 278.0ZM459.3 268.6L461.5 268.6L461.2 270.0L459.6 270.0Z" fill="#bebebe" stroke="#d3d3cf" stroke-width="0.8" stroke-linejoin="round"/>
<path d="M877.8 188.7L882.6 184.1L889.0 180.6L897.0 180.6L897.0 185.9L891.6 187.0L888.4 188.7L891.3 193.3L896.1 195.8L895.4 199.3L899.6 201.8L897.0 206.4L899.3 211.7L900.3 215.2L893.8 216.3L888.4 214.2L884.2 210.6L885.2 205.3L888.4 203.6L885.2 201.1L881.9 196.9L879.4 194.0ZM496.6 307.5L497.9 308.9L498.5 311.4L497.2 313.8L495.3 312.8L495.6 309.6Z" fill="#fff"/>
<path d="M273.5 100.0L273.5 132.9L280.0 134.0L284.8 137.5L291.2 134.7L297.6 139.3L303.1 146.0L308.9 148.1L308.2 151.6M332.0 172.8L420.7 172.8L422.7 173.9L431.0 175.3L439.0 176.4L442.6 175.3L454.2 180.6L458.3 183.4L461.5 185.9L461.9 194.0L459.6 197.6L466.4 196.9L472.8 194.7L472.5 192.6L480.8 190.5L486.6 187.0L496.9 187.0L500.8 183.8L504.3 178.5L508.1 178.8L508.8 184.1L511.4 187.0M350.3 231.1L358.1 230.4L369.9 235.4L378.9 235.4L378.9 233.6L384.4 233.6L390.8 241.4L395.0 243.5L397.3 240.7L400.8 240.7L404.7 246.3L406.9 248.8L408.2 252.7L414.3 254.5M430.4 294.8L430.4 291.9L432.0 289.1L436.2 289.1L434.2 285.2L434.2 283.1L440.0 283.1L440.0 289.8L443.2 290.5M440.0 283.1L442.9 280.6M440.0 289.8L439.7 295.1L437.1 297.6M439.7 295.1L442.3 296.5L444.5 298.6M446.1 300.1L450.3 297.2L454.2 293.7L459.3 293.0M451.3 306.8L454.5 307.1L457.7 307.5M460.3 317.4L460.6 314.2L461.2 312.4M477.9 315.3L476.3 320.6M497.5 304.3L493.7 306.8L492.1 313.5L494.0 316.3L495.3 321.3L501.7 321.3L503.6 324.4L509.8 324.1L508.8 330.1L510.4 334.0L508.8 336.1L511.4 341.8M511.4 341.8L502.4 340.0L504.3 343.9L501.7 344.2L501.7 346.7L503.6 349.9L502.0 360.8M502.0 360.8L499.5 359.4L492.4 354.8L489.8 350.6L484.7 346.4L481.5 344.6L477.9 344.6L473.4 341.1M484.7 346.4L483.7 351.3L480.2 355.2L475.0 358.0L473.8 362.3L470.9 361.9L468.6 361.2L468.6 358.0M502.0 360.8L492.4 364.4L491.4 367.6L488.9 372.2L492.4 378.2L494.6 381.3L499.8 379.6L499.8 384.9L503.0 384.9M503.0 384.9L505.9 390.2L504.9 395.5L503.6 400.8L505.3 403.6L503.0 407.1L503.3 407.8L500.4 410.7M503.0 384.9L507.2 384.9L512.6 381.0L516.8 380.6L516.8 386.6L519.7 390.2L524.9 391.9L528.1 393.7L532.3 394.8L533.2 403.6L539.0 403.6L539.3 407.1L541.9 410.3L540.9 413.1L539.6 416.0M539.6 416.0L536.8 414.2L528.1 415.3L525.5 424.5M525.5 424.5L520.0 426.6L517.1 424.1L513.6 423.0L510.7 426.6L508.1 421.3L506.5 416.7L505.6 413.1L503.3 407.8M510.7 426.6L511.4 427.3L510.4 430.8L506.9 432.6L507.2 441.1L502.7 446.7L501.7 453.4L500.1 457.3L501.7 463.7L502.4 466.9L500.1 470.4L500.4 473.6L497.9 476.1L498.8 482.8L496.3 485.9L496.3 494.4L495.0 496.2L495.9 502.9L497.5 506.1L495.6 511.4L494.0 514.6L494.3 519.2L490.5 520.9L494.3 525.2L494.3 528.7L504.9 530.5L506.9 531.2M506.2 532.2L506.2 540.0M525.5 424.5L530.6 430.1L537.7 433.6L541.6 436.1L538.4 441.8L545.1 442.8L547.4 442.8L551.2 436.5M539.6 416.0L540.6 424.1L547.4 424.8L548.6 430.8L552.2 430.8L551.2 436.5M551.2 436.5L553.8 438.6L554.1 441.1L547.7 446.0L541.6 452.7L539.6 460.9L539.0 466.2M541.6 452.7L546.7 454.8L553.1 458.4L555.1 465.1M533.9 316.0L529.4 325.1L531.6 327.6L525.2 331.9L519.7 331.5L521.0 337.2L516.2 343.2L511.7 341.8L511.4 341.8M531.6 327.6L533.9 328.3L534.5 330.5L535.5 332.2L534.5 337.9L534.5 341.1L538.7 341.4L545.1 339.3L551.2 337.9L556.7 338.2L560.5 331.5M542.9 324.8L542.5 327.6L540.3 331.9L542.5 334.3L545.1 339.3M553.1 325.5L551.9 329.4L552.5 334.3L551.2 337.9M719.6 222.0L721.2 227.6L722.8 231.9L715.1 235.7L714.8 237.5L709.0 241.4L698.7 244.6L698.7 249.5L698.7 254.1L688.1 254.1L688.1 263.3L684.9 264.7L684.9 270.7L672.4 270.7M698.7 248.1L684.3 248.1M698.7 249.5L711.3 257.6L730.6 271.4L737.0 278.5L740.2 278.5L745.3 277.1L750.8 272.1L765.3 263.0M711.3 257.6L705.8 257.6L708.7 287.7L709.7 291.2L696.8 291.2L691.7 292.3L689.7 290.9L687.5 293.7L683.3 289.1L680.1 287.3L674.3 287.7L673.7 289.5M687.5 293.7L690.1 302.2L682.7 301.5L678.5 301.1L673.0 302.5M672.7 297.9L677.2 297.2L682.3 298.3L677.5 299.4L672.7 299.7M673.0 302.5L678.5 301.1L682.7 301.5L682.7 304.7L679.5 305.4L678.5 307.1M690.1 302.2L693.6 302.9L696.8 302.2L700.0 306.8L701.0 310.0M684.0 314.2L686.5 311.0L690.7 310.7L692.6 313.8L693.6 316.0L689.7 321.6M693.6 316.0L696.5 319.8L699.4 319.1L700.3 316.0L701.6 310.0L701.0 310.0M699.4 319.1L702.6 325.1L702.6 330.5M701.0 310.0L706.8 308.5L709.0 309.2L712.2 311.7L717.7 311.7L718.0 318.1L716.4 323.7L717.7 328.0M709.0 309.2L709.7 304.3L712.6 301.1L713.8 298.6L717.4 296.5L720.3 295.8L724.5 292.6L727.3 293.3L730.9 291.9L737.9 291.6L740.2 286.3L740.2 278.5M717.7 311.7L717.4 307.1L726.4 306.8L729.6 307.1L734.4 303.9L734.4 302.5L733.4 301.1L729.9 298.6L727.3 293.3M730.6 324.4L728.3 319.5L728.0 312.4L726.7 306.8M731.8 324.1L731.8 314.2L729.3 308.9L729.6 307.1M735.4 323.4L735.7 314.2L738.3 310.0L738.3 304.7L734.4 302.5M738.3 304.7L739.6 298.3L747.6 297.9L751.8 299.0L757.2 300.8L761.1 298.6L766.9 299.7L770.4 297.6L770.1 294.8L776.5 286.3L776.5 275.3L778.1 273.9L774.9 264.7M765.3 263.0L772.3 266.1L774.9 264.7L803.8 277.1M765.3 263.0L758.8 259.4L757.2 252.7L758.5 246.0L757.2 239.3L759.8 236.8L759.8 234.0L763.7 231.5L763.7 228.7M757.2 239.3L755.6 232.6L750.8 226.6L753.4 222.3L754.3 215.6M807.7 234.3L807.1 242.8L807.1 268.3L807.1 275.3L803.8 275.3L803.8 277.1L803.8 290.5L800.3 291.2L798.1 300.1L800.3 307.1M807.1 268.3L845.3 268.3M770.4 297.6L772.0 301.8L774.6 302.9L774.9 307.1L776.5 310.7L771.4 312.1L775.9 319.5L776.5 319.5L786.5 317.7L787.8 314.2L796.4 308.5L800.3 307.1L802.9 315.3L804.5 315.3L807.7 318.4L811.5 322.7L814.8 328.0M754.3 329.0L756.6 323.7L762.7 323.0L764.6 321.3L768.2 316.0L771.1 307.1L772.3 301.8M776.5 319.5L773.3 324.8L773.9 329.7L778.8 338.2L769.4 338.2L763.0 338.2L758.2 337.9M763.0 338.2L763.0 342.5L758.2 342.5M762.4 359.8L765.3 354.5L768.5 354.5L773.0 352.7L773.3 348.1L771.4 346.0L773.0 341.4L769.4 338.2M778.8 338.2L780.1 333.6L786.5 333.6L784.6 337.5L783.9 344.9L783.6 347.8L778.8 353.8L778.8 358.4L775.6 361.2L773.0 363.3L768.8 362.3L767.8 361.5L765.9 366.5M786.5 333.6L786.5 330.5L789.4 328.3L798.7 331.5L805.1 328.0L814.8 328.0L821.5 330.1L825.7 333.6M804.5 315.3L807.1 309.6L811.9 312.4L816.7 312.8L819.9 311.7L821.5 310.7L827.3 311.4L830.8 304.7L833.4 302.9L832.8 310.0L836.3 312.4L836.3 315.6M850.8 282.4L848.5 284.5L845.6 285.9L843.7 295.1L842.7 301.1L839.5 304.3L838.9 307.5L836.9 308.5L836.3 315.6L832.8 318.1L836.0 320.6L840.2 326.6L842.1 329.7M843.7 295.1L848.5 293.3L855.3 294.8L860.7 300.1L863.0 301.8L865.2 301.1M863.0 301.8L861.0 307.1L864.6 307.5L865.5 305.4M864.6 307.5L868.1 314.2L877.8 317.7L881.0 317.7L871.3 328.3L866.5 329.0L861.7 331.2L861.4 332.2L857.8 331.2L853.7 334.0L849.2 333.3L845.3 330.5L842.1 329.7L836.0 331.2L832.8 332.6L826.3 332.9L825.7 333.6M861.4 332.2L858.5 336.1L858.5 348.8L860.1 352.0M836.0 331.2L837.6 335.4L839.2 340.0L836.0 344.9L835.7 349.5L847.5 356.6L848.2 359.1L852.7 362.6M825.7 333.6L827.3 338.2L822.8 343.2L821.8 348.1L821.8 350.9L819.9 355.5L821.2 361.5L821.5 367.2L825.7 375.0M835.7 349.5L824.7 349.5L825.7 354.5L824.7 358.4L823.8 361.5L821.2 361.5M821.8 350.9L824.7 349.5M819.9 355.5L824.7 354.5M825.7 375.0L832.4 379.2L836.0 379.6L837.6 383.1L837.9 386.6L847.2 387.3L850.4 385.9L856.5 383.1M837.9 386.6L837.3 389.1L838.2 393.7L841.8 397.2L841.8 402.5L840.2 406.1L836.9 402.5L837.6 397.2L834.4 397.2L832.8 395.5L831.8 394.1L833.4 390.2L833.7 384.2L832.4 379.2M825.7 375.0L819.6 376.0L818.0 378.9L818.6 386.6L821.5 389.8L822.5 393.4L818.0 390.2L815.1 389.1L810.3 388.1L805.1 386.3L803.8 384.5L803.8 391.9L797.4 391.9L797.4 403.3L801.9 408.2M803.8 384.5L798.4 385.6L796.8 379.6L796.8 371.8L789.4 370.7L787.8 374.3L783.3 374.6L780.1 366.9L769.1 366.9L765.9 366.5M764.6 407.1L770.1 406.1L771.7 407.5L785.8 407.5L793.6 409.6L801.9 408.2L804.8 409.6L808.0 408.9M794.2 409.6L794.2 423.7L791.0 423.7L791.0 433.6L791.0 446.4L787.8 448.1L782.6 447.4L779.7 447.1M794.2 410.7L801.6 409.6L804.8 409.6M791.0 433.6L793.6 440.7L797.4 440.0L800.6 435.4L807.1 436.8L809.9 433.3L813.5 429.4L821.2 424.5L815.7 418.4L810.9 413.1L808.0 408.9L813.5 409.6L819.6 402.5L824.4 401.1L823.8 399.0L832.8 395.5M824.4 401.1L824.4 402.5L832.4 405.0L832.4 411.4L831.8 418.4L827.3 425.2L821.2 424.5M827.3 425.2L829.5 432.6L829.2 437.5L826.3 437.9L825.7 440.7L827.3 442.5L829.5 440.7L829.2 437.5M829.5 440.7L832.4 441.1M813.5 450.6L816.7 448.1L820.9 448.8L821.2 451.7L817.3 454.1L814.8 453.1L813.5 450.6M836.6 235.4L838.9 241.7M698.1 197.9L700.3 197.2L705.5 197.9L706.8 199.0L704.5 201.1L704.2 205.7L702.6 206.1L704.2 211.0L702.6 213.5L702.9 214.5M720.9 192.6L726.7 195.1L731.5 195.8L737.0 196.2M750.8 191.2L749.2 189.4L749.2 186.3L748.9 183.8L746.3 182.4L749.2 178.1L751.1 177.8L753.1 172.8L747.3 171.1L745.3 171.1L742.1 169.3L740.2 169.3L735.1 165.4M748.9 183.8L753.7 182.0L755.6 183.8L760.4 180.3L765.9 179.9L770.7 181.7L770.4 184.1M751.1 177.8L757.6 178.1L757.2 179.5L760.4 180.3M737.6 164.4L740.5 164.4L742.8 164.4L745.7 165.4L745.0 166.5L746.0 166.8L746.3 168.9L747.3 171.1M746.0 166.8L746.3 162.9L748.6 162.6L749.2 160.8L749.8 158.0M754.3 152.0L758.5 152.3M772.7 155.5L772.0 159.1L773.9 161.5L774.9 165.8L774.3 166.1L768.5 167.9L765.9 168.2L766.9 170.7L771.1 173.5L768.5 175.3L768.5 178.1L765.3 177.8L760.4 178.1L757.6 178.1M774.3 166.1L778.8 167.5L781.0 168.2L786.5 169.7L787.4 171.1L791.0 172.1L799.0 172.5M771.1 173.5L774.9 172.8L781.0 174.2L784.6 172.8L787.4 171.1M781.0 174.2L781.7 176.4L779.7 178.1L778.8 180.3L773.3 181.7L770.7 181.7M781.7 176.4L787.1 177.1L791.0 175.7L797.7 175.0L799.0 172.5M799.0 172.5L799.7 170.7L803.8 167.5L802.6 164.0L802.6 160.5L803.5 158.7L802.2 155.5L800.0 153.8L790.3 153.8M800.0 153.8L799.7 151.6L795.2 150.6L794.2 150.6M794.2 147.7L800.3 146.7L807.1 147.4L812.2 149.2L817.3 147.4M802.2 155.5L808.7 154.5L809.6 152.0L812.2 149.2M804.8 141.4L810.3 141.7L814.8 142.8L816.0 144.9L817.3 147.4M814.8 142.8L814.8 138.2L817.0 136.1M817.3 147.4L826.0 149.5L826.3 152.7L831.8 157.3L827.6 158.0L828.9 161.9M802.6 164.0L807.1 162.6L815.1 164.0L824.7 164.7L828.9 161.9L836.0 160.8L840.8 167.9L848.8 169.7L855.6 170.7L854.3 177.1L849.5 179.5M797.7 175.0L800.3 176.4L806.7 177.4L812.2 175.3L816.7 175.3L820.2 176.7L823.1 182.0L819.6 182.0L817.3 185.2L822.2 186.3M812.2 175.3L817.0 180.3L817.3 185.2M800.3 176.4L794.8 182.0L791.9 182.7L787.1 183.8L782.9 183.8L779.7 181.7L778.8 180.3M791.9 182.7L795.8 186.3L795.5 187.7L799.0 188.0L799.7 189.8L800.6 191.2L808.7 191.6L813.5 190.2L818.6 191.6M799.7 189.8L798.7 192.3L800.6 193.3L798.7 196.5L800.6 198.3L800.3 200.0L805.4 199.3L810.3 200.0L811.5 198.6L814.4 197.2L816.7 197.6M811.5 198.6L812.2 200.0L810.3 201.8M800.3 200.0L797.1 200.8L793.9 201.5L792.9 204.3L791.0 205.7M793.9 201.5L792.6 199.3L792.9 197.6L791.3 195.5L789.1 197.9M792.9 197.6L798.7 196.5M770.4 185.2L775.9 185.2L777.2 182.7L779.7 181.7M789.1 187.3L787.8 187.3L781.3 186.3L777.5 186.3L778.8 189.8L783.3 194.0L786.2 195.8M787.1 183.8L787.8 185.2L789.1 187.3L788.4 190.5L789.4 192.3L786.2 195.8M789.4 192.3L791.9 194.0L791.3 195.5M762.7 137.5L764.6 134.7L766.9 130.4L765.9 128.0L766.2 123.4L770.1 119.8L773.3 115.2L776.5 111.7L779.4 107.5L784.6 103.9L791.3 102.2L792.9 102.0M792.9 102.0L802.2 106.0L802.9 111.0L804.2 113.5M792.9 102.0L795.2 101.1L800.6 103.2L807.1 103.6L809.3 101.4L811.9 99.0L816.7 98.3L819.9 101.8L823.8 100.0L826.0 99.3M819.9 101.8L818.3 105.0L823.1 106.7L819.9 109.6L823.4 113.8L822.2 117.0L824.7 119.1L828.3 123.7L823.1 127.6L816.0 132.2M702.9 151.6L700.3 153.4L703.2 154.8L706.5 154.8M842.4 219.1L844.3 215.9L848.8 215.9L857.8 214.9L863.0 214.9L870.7 214.5L869.4 210.3L868.8 206.8L870.7 205.7L867.2 204.3L866.5 200.8L863.3 199.3L860.1 199.3M855.3 192.6L863.3 193.3L869.7 195.1L875.8 197.9L880.3 200.4L882.9 198.3M875.8 197.9L876.2 200.8L871.3 200.0L866.5 200.8M871.3 200.0L872.9 202.2L876.2 206.4L876.2 208.5M870.7 205.7L876.2 208.5L881.0 205.7L883.9 210.3M839.5 229.0L842.1 228.0L844.3 225.1L842.4 223.7M839.0 241.7L840.8 234.7L841.1 230.4L842.1 228.0M841.1 230.4L845.0 231.9L851.4 228.0L858.5 224.4L859.1 218.8L863.0 214.9M851.4 228.0L852.7 232.2L845.6 234.7L848.8 238.2L847.2 240.0L842.4 242.8L839.2 242.5M852.7 232.2L856.5 233.3L861.7 236.1L870.4 242.8L876.2 243.2L880.0 240.0L881.0 240.0M876.2 243.2L879.4 244.9L882.3 245.3M870.7 214.5L872.6 218.8L875.2 222.0L872.9 225.1L874.5 229.4L880.3 234.7L880.0 237.2L882.6 240.0M864.3 288.0L865.9 284.5L872.0 284.5L877.8 285.9L881.0 281.7L893.8 278.9L903.5 275.3L905.7 268.3L904.1 265.8L895.8 265.1L892.5 260.8M893.8 278.9L897.4 287.3M904.1 265.8L906.0 260.5L907.6 258.0M890.0 258.7L891.3 259.1M899.9 214.2L903.5 211.7L910.5 211.0L914.7 213.1L917.3 213.5L923.4 216.7L923.4 220.2L921.5 224.8L921.1 227.6L922.4 234.7L925.3 236.4L922.4 240.7L927.6 242.1L929.8 249.9L928.5 252.0L924.7 256.9M927.6 242.1L939.8 240.3L941.7 235.4L949.4 233.3L950.1 227.6L952.6 228.0L954.9 224.1L957.1 217.4L963.9 215.9L967.4 214.5M923.4 220.2L929.2 220.9L934.0 217.7L937.9 213.5L940.4 213.8L944.6 214.5L949.4 214.9L952.3 213.1L956.5 210.6L956.8 216.3L962.3 213.5L967.4 214.5M945.9 262.2L952.6 259.8L955.2 258.7L951.7 255.2L952.0 248.5L957.8 247.0L962.6 240.3L966.5 236.4L965.8 234.0L969.0 231.9L965.2 229.4L964.5 224.1L973.9 220.9L976.7 220.5M967.4 214.5L971.0 218.8L976.7 220.5L980.3 224.8L979.6 230.8L981.2 231.1L979.6 234.7L987.4 239.3L990.2 238.9L997.3 244.2L1003.1 247.0L1009.9 247.4L1012.4 249.5L1015.0 246.3L1021.4 247.8L1027.2 244.6L1033.6 243.2L1039.4 246.0M987.4 239.3L984.1 244.2L992.5 248.1L1000.5 251.6L1009.5 252.7L1009.9 247.4M1012.4 249.5L1015.3 251.6L1022.7 250.9L1021.4 247.8M1009.9 252.7L1009.9 259.4L1012.1 260.5L1011.8 264.0L1012.7 268.3M1009.9 252.7L1015.3 254.1L1015.3 256.6L1023.7 257.6L1019.8 262.2L1023.4 264.7L1024.3 270.0L1023.4 272.8M1024.3 268.6L1026.6 264.7L1029.5 261.2L1031.1 255.9L1032.7 251.6L1038.8 250.2L1039.4 246.0L1043.9 248.5L1043.9 254.8L1040.4 259.8L1044.6 260.8L1046.5 265.1L1049.1 270.0L1052.0 271.1L1054.8 271.1L1055.2 266.8L1060.6 266.1L1065.1 263.7L1069.6 265.4L1070.6 269.0L1073.8 270.0M1052.0 271.1L1048.4 273.9L1042.3 276.4L1040.7 280.6L1043.3 285.9L1043.6 289.5L1042.3 292.6L1045.5 297.6L1046.8 304.3L1044.2 310.0L1043.6 311.0M1055.2 266.8L1058.4 272.5L1062.9 273.9L1063.2 277.1L1064.2 279.9L1069.0 286.3L1072.2 291.6L1072.2 294.1L1072.5 302.5L1067.4 304.7L1067.4 307.5L1064.2 307.8L1062.2 309.2M1048.4 273.9L1050.0 277.1L1052.3 277.1L1051.6 284.2L1054.8 281.7L1059.0 281.0L1063.5 284.5L1063.5 288.0L1066.1 290.9L1064.8 295.5L1072.2 294.1M1064.8 295.5L1057.7 295.8L1055.8 298.3L1057.4 304.7M1048.4 323.4L1051.6 325.9L1054.8 324.1M1079.0 338.9L1081.8 342.8L1086.7 342.1L1093.1 341.1L1096.3 336.1L1098.2 331.2L1104.7 331.2M1179.9 355.2L1179.9 378.2M1133.9 212.4L1139.1 209.6M1126.2 204.6L1131.7 201.1L1138.1 199.3L1138.4 197.6L1146.4 196.2L1148.7 192.3L1147.7 187.0L1154.5 186.6L1157.4 178.5L1159.9 175.0L1147.7 177.4L1146.8 173.2L1136.5 170.0L1131.7 160.1L1124.0 156.9L1115.3 157.6L1111.7 161.5L1114.6 162.6L1110.1 167.9L1105.3 171.1L1101.8 170.0M1101.8 170.0L1094.1 168.2L1080.2 172.1L1073.5 169.7L1067.4 168.2L1055.5 167.2L1054.8 164.4L1044.6 161.9L1041.0 165.8L1042.6 167.5L1039.4 170.0L1030.7 169.3L1023.4 166.5L1014.7 169.7L1008.9 172.1L1007.6 172.5M1101.8 170.0L1097.9 176.0L1104.0 177.4L1107.6 179.9L1111.4 181.0L1104.0 182.0L1098.6 185.2L1094.7 185.6L1086.3 187.0L1084.7 189.4L1086.3 191.6L1077.7 195.8L1064.2 199.0L1050.7 195.1L1036.5 195.1L1033.0 189.4L1027.2 187.0L1018.9 186.3L1019.2 180.3L1016.0 177.1L1012.1 176.0L1008.9 172.1M1007.6 172.5L1000.5 170.7L996.4 166.1L983.8 166.5L977.1 157.6L972.6 154.5L965.8 156.9L962.6 155.2L955.5 154.8L954.6 150.6L945.9 151.6L936.3 153.8L923.7 155.5L922.8 159.1L919.5 162.6L924.7 164.7L924.0 166.5L919.2 166.5L914.4 165.4L905.7 167.2L894.8 163.3L890.0 163.3L883.2 167.2L882.9 169.7L877.1 175.0L878.7 177.4L881.3 177.4L884.2 182.0L882.9 184.1L885.2 182.7M1007.6 172.5L1002.5 175.0L1002.1 179.2L993.5 179.2L991.2 185.2L983.5 187.3L984.8 196.5L978.0 200.8L973.9 201.1L963.6 206.4L963.9 209.9L967.4 214.5M984.8 196.5L981.2 194.7L970.3 194.4L965.2 193.3L962.9 195.8L955.5 195.1L954.6 196.5L948.5 199.7L945.6 201.8L940.4 197.6L938.8 194.0L935.3 191.6L923.1 189.1L914.7 184.8L906.7 187.0L906.7 200.0M895.4 198.3L902.8 197.6L905.1 200.0L909.9 200.0L910.2 197.6L915.0 194.7L919.5 196.9L919.9 199.7L925.6 200.8L927.3 204.6L933.0 208.5L940.4 213.8M963.6 206.4L957.5 207.1L950.1 206.4L953.3 203.9L957.5 203.9L961.6 201.8L956.2 201.1L952.3 199.7L954.9 196.9M950.1 206.4L946.9 206.4L943.3 207.5L946.5 211.0L944.6 214.5M488.9 500.8L490.1 505.0L487.9 508.6L488.9 512.8L486.9 516.7L488.2 520.9L487.3 524.8L489.5 529.1L490.5 532.6L494.6 535.4L499.1 537.9L504.9 540.0M491.4 502.6L490.8 509.6L490.1 515.6L489.5 522.7L492.1 528.0L494.0 532.6L499.1 534.7L503.3 537.9M506.9 531.2L500.1 532.6L498.5 536.1L493.7 534.4L488.9 532.6M486.3 512.1L486.0 519.2L486.0 526.2L488.2 530.8L492.7 536.8L500.1 540.4M492.1 494.4L493.0 498.0L491.4 502.6" fill="none" stroke="#d3d3cf" stroke-width="1.1" stroke-linejoin="round"/>
</g>
<clipPath id="clipA"><rect x="72.6" y="0" width="1277.4" height="620.5"/></clipPath>
<linearGradient id="ylgnbu" x1="0" x2="1" y1="0" y2="0">
<stop offset="0.0000" stop-color="#FFFFD9"/>
<stop offset="0.1429" stop-color="#EDF8B1"/>
<stop offset="0.2857" stop-color="#C7E9B4"/>
<stop offset="0.4286" stop-color="#7FCDBB"/>
<stop offset="0.5714" stop-color="#41B6C4"/>
<stop offset="0.7143" stop-color="#1D91C0"/>
<stop offset="0.8571" stop-color="#225EA8"/>
<stop offset="1.0000" stop-color="#0C2C84"/>
</linearGradient>
</defs>
<g id="panelA">
<g clip-path="url(#clipA)"><use href="#world"/>
<circle cx="334.4" cy="189.6" r="3.95" fill="#9dd8bb"/>
<circle cx="341.2" cy="223.0" r="3.95" fill="#c9ebb2"/>
<circle cx="369.3" cy="197.8" r="3.95" fill="#6cc5bc"/>
<circle cx="368.9" cy="205.2" r="3.95" fill="#2389bf"/>
<circle cx="368.1" cy="221.0" r="3.95" fill="#2083bd"/>
<circle cx="390.8" cy="202.2" r="3.95" fill="#40b5c4"/>
<circle cx="388.1" cy="200.0" r="3.95" fill="#2290c1"/>
<circle cx="387.0" cy="206.2" r="3.95" fill="#b5e2b6"/>
<circle cx="403.3" cy="180.4" r="3.95" fill="#2290c1"/>
<circle cx="400.0" cy="182.2" r="3.95" fill="#98d7ba"/>
<circle cx="426.7" cy="178.1" r="3.95" fill="#2290c1"/>
<circle cx="417.0" cy="196.0" r="3.95" fill="#4cb7c6"/>
<circle cx="456.7" cy="199.3" r="3.95" fill="#45b4c6"/>
<circle cx="452.3" cy="196.0" r="3.95" fill="#c5e9b3"/>
<circle cx="494.8" cy="195.9" r="3.95" fill="#45b4c6"/>
<circle cx="787.2" cy="104.5" r="3.95" fill="#e8f6b5"/>
<circle cx="761.6" cy="118.9" r="3.95" fill="#77c9bd"/>
<circle cx="792.7" cy="120.7" r="3.95" fill="#1f7fbb"/>
<circle cx="789.6" cy="119.3" r="3.95" fill="#2261ac"/>
<circle cx="768.0" cy="147.8" r="3.95" fill="#77c9bd"/>
<circle cx="744.9" cy="161.4" r="3.95" fill="#88d1ba"/>
<circle cx="758.7" cy="163.6" r="3.95" fill="#66c3c0"/>
<circle cx="759.8" cy="162.2" r="3.95" fill="#66c3c0"/>
<circle cx="761.1" cy="160.7" r="3.95" fill="#66c3c0"/>
<circle cx="746.9" cy="174.0" r="3.95" fill="#2b9ac3"/>
<circle cx="756.5" cy="173.8" r="3.95" fill="#e6f5b3"/>
<circle cx="773.3" cy="172.8" r="3.95" fill="#4fbac5"/>
<circle cx="773.3" cy="172.8" r="3.95" fill="#70c6be"/>
<circle cx="704.9" cy="158.9" r="3.95" fill="#2180bc"/>
<circle cx="711.3" cy="146.6" r="3.95" fill="#2b9dc5"/>
<circle cx="714.6" cy="148.4" r="3.95" fill="#2296c3"/>
<circle cx="720.2" cy="153.6" r="3.95" fill="#2b9dc5"/>
<circle cx="718.4" cy="155.3" r="3.95" fill="#77c9bd"/>
<circle cx="724.2" cy="158.4" r="3.95" fill="#5ec0c1"/>
<circle cx="714.0" cy="158.0" r="3.95" fill="#2a9ac3"/>
<circle cx="714.3" cy="160.7" r="3.95" fill="#2a9ac3"/>
<circle cx="714.3" cy="166.0" r="3.95" fill="#2b9dc5"/>
<circle cx="726.9" cy="161.1" r="3.95" fill="#2180bc"/>
<circle cx="720.8" cy="164.9" r="3.95" fill="#2468b0"/>
<circle cx="1124.7" cy="188.0" r="3.95" fill="#d5eeb3"/>
<circle cx="1124.0" cy="198.3" r="3.95" fill="#42b3c5"/>
<circle cx="1100.0" cy="197.6" r="3.95" fill="#dbf0b3"/>
<circle cx="1107.8" cy="200.4" r="3.95" fill="#f1f9b9"/>
<circle cx="1100.8" cy="204.7" r="3.95" fill="#fdfed1"/>
<circle cx="1049.1" cy="213.7" r="3.95" fill="#4db8c5"/>
<circle cx="1057.6" cy="222.6" r="3.95" fill="#2794c2"/>
<circle cx="1094.6" cy="222.0" r="3.95" fill="#2492c1"/>
<circle cx="1086.3" cy="251.3" r="3.95" fill="#2570b4"/>
<circle cx="843.9" cy="314.0" r="3.95" fill="#6fc6be"/>
<circle cx="850.0" cy="358.0" r="3.95" fill="#34a0c3"/>
<circle cx="1102.0" cy="455.0" r="3.95" fill="#2b97c4"/>
<circle cx="1209.1" cy="445.8" r="3.95" fill="#2354a4"/>
<circle cx="1219.1" cy="446.7" r="3.95" fill="#2570b4"/>
<circle cx="1210.9" cy="465.9" r="3.95" fill="#e5f5b5"/>
<circle cx="1172.0" cy="468.7" r="3.95" fill="#3aaac4"/>
<circle cx="1172.9" cy="467.6" r="3.95" fill="#b9e4b6"/>
</g>
<path d="M160.8 201 L162 203 L166 207 L170 211 L167 215 L164.5 219.5 L164.3 222 L166.5 224.3 L177 226.5 L209 229 L255 231.3 L300 234.2 L263 237 L246 239.3 L240 243.4 L246 246.2 L276 248.5 L318 250.8 L346 252.3 L311 254.3 L265 257.7 L240 261 L228 263.5 L205 266 L184 268 L172 270.5 L166 274 L165 278.5 L163 281 L160.8 283.5Z M160.8 300.5 L163.5 306 L160.8 311Z M160.8 320 L166 327 L160.8 334Z M160.8 359.5 L170 366 L175 369.7 L182 373.2 L189 376.5 L180 379 L168 382.3 L163 384.7 L160.8 386.3Z" fill="#5d854a"/>
<path d="M152 180.4V395.7H362.3" fill="none" stroke="#000" stroke-width="2.5"/>
<line x1="146" x2="151" y1="190.3" y2="190.3" stroke="#333" stroke-width="2.4"/>
<text x="141" y="197.5" font-size="19.7" fill="#4d4d4d" text-anchor="end" style="letter-spacing:0.3px">80°N</text>
<line x1="146" x2="151" y1="255.9" y2="255.9" stroke="#333" stroke-width="2.4"/>
<text x="141" y="263.1" font-size="19.7" fill="#4d4d4d" text-anchor="end" style="letter-spacing:0.3px">40°N</text>
<line x1="146" x2="151" y1="321.2" y2="321.2" stroke="#333" stroke-width="2.4"/>
<text x="141" y="328.4" font-size="19.7" fill="#4d4d4d" text-anchor="end" style="letter-spacing:0.3px">0°N</text>
<line x1="146" x2="151" y1="386.2" y2="386.2" stroke="#333" stroke-width="2.4"/>
<text x="141" y="393.4" font-size="19.7" fill="#4d4d4d" text-anchor="end" style="letter-spacing:0.3px">40°S</text>
<line x1="160.8" x2="160.8" y1="396.7" y2="401.7" stroke="#333" stroke-width="2.4"/>
<text transform="translate(171.3,416.2) rotate(-45)" font-size="19.7" fill="#4d4d4d" text-anchor="end">0.00</text>
<line x1="225.9" x2="225.9" y1="396.7" y2="401.7" stroke="#333" stroke-width="2.4"/>
<text transform="translate(236.4,416.2) rotate(-45)" font-size="19.7" fill="#4d4d4d" text-anchor="end">0.02</text>
<line x1="291.2" x2="291.2" y1="396.7" y2="401.7" stroke="#333" stroke-width="2.4"/>
<text transform="translate(301.7,416.2) rotate(-45)" font-size="19.7" fill="#4d4d4d" text-anchor="end">0.04</text>
<line x1="356.5" x2="356.5" y1="396.7" y2="401.7" stroke="#333" stroke-width="2.4"/>
<text transform="translate(367.0,416.2) rotate(-45)" font-size="19.7" fill="#4d4d4d" text-anchor="end">0.06</text>
<text x="257.5" y="470.9" font-size="23.4" fill="#000" text-anchor="middle">Density</text>
<text x="98.6" y="68.8" font-size="48" fill="#000">a</text>
<text x="589.5" y="570.5" font-size="23.4" fill="#000">CUE</text>
<rect x="658.2" y="552.7" width="174.3" height="14.4" fill="url(#ylgnbu)"/>
<line x1="745.3" x2="745.3" y1="552.7" y2="567.1" stroke="#fff" stroke-width="0.7"/>
<text x="658.4" y="596.2" font-size="23.4" fill="#000" text-anchor="middle">0.0</text>
<text x="745.3" y="596.2" font-size="23.4" fill="#000" text-anchor="middle">0.5</text>
<text x="832.3" y="596.2" font-size="23.4" fill="#000" text-anchor="middle">1.0</text>
<rect x="72.6" y="0.2" width="1276.4" height="620.3" fill="none" stroke="#333333" stroke-width="2.7"/>
<line x1="66" x2="72" y1="27.9" y2="27.9" stroke="#333333" stroke-width="2"/>
<text x="61.8" y="36.2" font-size="23.4" fill="#4d4d4d" text-anchor="end">90 °N</text>
<line x1="66" x2="72" y1="134.0" y2="134.0" stroke="#333333" stroke-width="2"/>
<text x="61.8" y="142.3" font-size="23.4" fill="#4d4d4d" text-anchor="end">60 °N</text>
<line x1="66" x2="72" y1="240.0" y2="240.0" stroke="#333333" stroke-width="2"/>
<text x="61.8" y="248.3" font-size="23.4" fill="#4d4d4d" text-anchor="end">30 °N</text>
<line x1="66" x2="72" y1="346.0" y2="346.0" stroke="#333333" stroke-width="2"/>
<text x="61.8" y="354.3" font-size="23.4" fill="#4d4d4d" text-anchor="end">0</text>
<line x1="66" x2="72" y1="452.0" y2="452.0" stroke="#333333" stroke-width="2"/>
<text x="61.8" y="460.3" font-size="23.4" fill="#4d4d4d" text-anchor="end">30 °S</text>
<line x1="66" x2="72" y1="558.0" y2="558.0" stroke="#333333" stroke-width="2"/>
<text x="61.8" y="566.3" font-size="23.4" fill="#4d4d4d" text-anchor="end">60 °S</text>
<line x1="148.2" x2="148.2" y1="620.5" y2="627.0" stroke="#333333" stroke-width="2"/>
<text x="148.2" y="648.2" font-size="23.4" fill="#4d4d4d" text-anchor="middle">180 °W</text>
<line x1="341.0" x2="341.0" y1="620.5" y2="627.0" stroke="#333333" stroke-width="2"/>
<text x="341.0" y="648.2" font-size="23.4" fill="#4d4d4d" text-anchor="middle">120 °W</text>
<line x1="533.9" x2="533.9" y1="620.5" y2="627.0" stroke="#333333" stroke-width="2"/>
<text x="533.9" y="648.2" font-size="23.4" fill="#4d4d4d" text-anchor="middle">60 °W</text>
<line x1="726.7" x2="726.7" y1="620.5" y2="627.0" stroke="#333333" stroke-width="2"/>
<text x="726.7" y="648.2" font-size="23.4" fill="#4d4d4d" text-anchor="middle">0</text>
<line x1="919.5" x2="919.5" y1="620.5" y2="627.0" stroke="#333333" stroke-width="2"/>
<text x="919.5" y="648.2" font-size="23.4" fill="#4d4d4d" text-anchor="middle">60 °E</text>
<line x1="1112.4" x2="1112.4" y1="620.5" y2="627.0" stroke="#333333" stroke-width="2"/>
<text x="1112.4" y="648.2" font-size="23.4" fill="#4d4d4d" text-anchor="middle">120 °E</text>
<line x1="1305.2" x2="1305.2" y1="620.5" y2="627.0" stroke="#333333" stroke-width="2"/>
<text x="1305.2" y="648.2" font-size="23.4" fill="#4d4d4d" text-anchor="middle">180 °E</text>
</g>
<g id="panelB">
<g clip-path="url(#clipA)" transform="translate(0,737.2)"><use href="#world"/></g>
<g>
<circle cx="251.8" cy="853.3" r="3.9" fill="#f7fcbe"/>
<circle cx="334.0" cy="926.2" r="3.9" fill="#f7fcbe"/>
<circle cx="388.3" cy="941.5" r="3.9" fill="#eff9b6"/>
<circle cx="427.3" cy="922.2" r="3.9" fill="#f9fdc4"/>
<circle cx="416.6" cy="944.6" r="3.9" fill="#fafdc6"/>
<circle cx="452.7" cy="932.7" r="3.9" fill="#f7fcbe"/>
<circle cx="458.4" cy="959.1" r="3.9" fill="#f7fcbe"/>
<circle cx="496.2" cy="927.3" r="3.9" fill="#9dd8bb"/>
<circle cx="494.4" cy="932.2" r="3.9" fill="#2080bc"/>
<circle cx="515.4" cy="1018.0" r="3.9" fill="#fbfdc8"/>
<path d="M367.6 947.3L372.65 956.00H362.55Z" fill="#d9efb0"/>
<path d="M366.0 945.7L371.05 954.40H360.95Z" fill="#d9efb0"/>
<path d="M374.4 945.1L379.45 953.80H369.35Z" fill="#a8ddb5"/>
<path d="M375.4 943.4L380.45 952.10H370.35Z" fill="#4ab5c4"/>
<path d="M366.9 945.1L371.95 953.80H361.85Z" fill="#b5e2b6"/>
<path d="M371.8 943.3L376.85 952.00H366.75Z" fill="#c5e9b3"/>
<path d="M374.4 942.0L379.45 950.70H369.35Z" fill="#dbf0b3"/>
<path d="M354.8 958.0L359.85 966.70H349.75Z" fill="#c3e8b4"/>
<path d="M400.4 1000.2L405.45 1008.90H395.35Z" fill="#8ad2ba"/>
<path d="M397.8 998.1L402.85 1006.80H392.75Z" fill="#7fcdbb"/>
<path d="M402.3 994.9L407.35 1003.60H397.25Z" fill="#70c6be"/>
<path d="M502.8 1043.1L507.85 1051.80H497.75Z" fill="#95d6ba"/>
<path d="M503.2 1041.8L508.25 1050.50H498.15Z" fill="#37a3c3"/>
<path d="M517.6 1047.7L522.65 1056.40H512.55Z" fill="#c0e6b4"/>
<path d="M471.6 1091.0L476.65 1099.70H466.55Z" fill="#67c3bf"/>
<path d="M498.6 1135.5L503.65 1144.20H493.55Z" fill="#b8e3b5"/>
<path d="M602.8 1111.7L607.85 1120.40H597.75Z" fill="#e8f6b5"/>
<path d="M589.1 1116.8L594.15 1125.50H584.05Z" fill="#e6f5b3"/>
<path d="M594.1 1117.1L599.15 1125.80H589.05Z" fill="#e1f3b2"/>
<path d="M497.2 1187.2L502.25 1195.90H492.15Z" fill="#1a78b6"/>
<path d="M497.2 1185.0L502.25 1193.70H492.15Z" fill="#f4fbbf"/>
<path d="M497.7 1181.1L502.75 1189.80H492.65Z" fill="#d5eeb3"/>
<path d="M508.6 1188.8L513.65 1197.50H503.55Z" fill="#e3f4b2"/>
<path d="M510.2 1188.3L515.25 1197.00H505.15Z" fill="#4ab5c4"/>
<path d="M511.8 1187.9L516.85 1196.60H506.75Z" fill="#c0e6b4"/>
<path d="M502.8 1224.9L507.85 1233.60H497.75Z" fill="#c0e6b4"/>
<path d="M498.6 1222.2L503.65 1230.90H493.55Z" fill="#82cebb"/>
<path d="M722.0 944.0L727.05 952.70H716.95Z" fill="#5dc0c0"/>
<path d="M724.0 940.7L729.05 949.40H718.95Z" fill="#162f86"/>
<path d="M722.7 942.3L727.75 951.00H717.65Z" fill="#1f7dba"/>
<path d="M719.3 938.7L724.35 947.40H714.25Z" fill="#6cc5bf"/>
<path d="M721.0 937.5L726.05 946.20H715.95Z" fill="#2492c1"/>
<path d="M717.3 935.1L722.35 943.80H712.25Z" fill="#9dd8bb"/>
<path d="M716.2 934.5L721.25 943.20H711.15Z" fill="#2b9dc5"/>
<path d="M718.7 960.3L723.75 969.00H713.65Z" fill="#c8eab2"/>
<path d="M720.0 956.0L725.05 964.70H714.95Z" fill="#4ab5c4"/>
<path d="M715.3 956.7L720.35 965.40H710.25Z" fill="#a8ddb5"/>
<path d="M715.5 955.2L720.55 963.90H710.45Z" fill="#c5e9b3"/>
<path d="M760.7 960.3L765.75 969.00H755.65Z" fill="#c8eab2"/>
<path d="M759.3 957.3L764.35 966.00H754.25Z" fill="#4ab5c4"/>
<path d="M757.7 955.3L762.75 964.00H752.65Z" fill="#c0e6b4"/>
<path d="M760.7 954.0L765.75 962.70H755.65Z" fill="#a8ddb5"/>
<path d="M758.0 951.3L763.05 960.00H752.95Z" fill="#b5e2b6"/>
<path d="M839.1 966.4L844.15 975.10H834.05Z" fill="#6cc5bf"/>
<path d="M915.4 946.9L920.45 955.60H910.35Z" fill="#4ab5c4"/>
<path d="M908.2 945.6L913.25 954.30H903.15Z" fill="#82cebb"/>
<path d="M913.8 945.0L918.85 953.70H908.75Z" fill="#a5dcb6"/>
<path d="M722.1 1033.8L727.15 1042.50H717.05Z" fill="#c0e6b4"/>
<path d="M723.6 1044.2L728.65 1052.90H718.55Z" fill="#98d7ba"/>
<path d="M845.3 1075.9L850.35 1084.60H840.25Z" fill="#b8e3b5"/>
<path d="M798.2 1170.0L803.25 1178.70H793.15Z" fill="#e0f3a8"/>
<path d="M795.7 1171.7L800.75 1180.40H790.65Z" fill="#e0f3a8"/>
<path d="M800.5 1166.0L805.55 1174.70H795.45Z" fill="#e0f3a8"/>
<path d="M1101.4 906.0L1106.45 914.70H1096.35Z" fill="#b0e0b6"/>
<path d="M1102.3 905.2L1107.35 913.90H1097.25Z" fill="#2389bf"/>
<path d="M1102.6 903.6L1107.65 912.30H1097.55Z" fill="#2356a6"/>
<path d="M1109.8 903.0L1114.85 911.70H1104.75Z" fill="#2389bf"/>
<path d="M1107.3 902.0L1112.35 910.70H1102.25Z" fill="#5dc0c0"/>
<path d="M1103.4 901.9L1108.45 910.60H1098.35Z" fill="#2570b4"/>
<path d="M1198.1 1190.3L1203.15 1199.00H1193.05Z" fill="#c0e6a8"/>
<path d="M1199.0 1188.0L1204.05 1196.70H1193.95Z" fill="#b0e0b6"/>
<path d="M1184.9 1198.0L1189.95 1206.70H1179.85Z" fill="#cfe9a0"/>
<path d="M1184.9 1197.0L1189.95 1205.70H1179.85Z" fill="#9dd8b8"/>
</g>
<path d="M160.8 925.8 L161.9 935 L164.2 943.1 L168.8 950 L176.9 955.8 L188.5 961.1 L204.6 966.2 L227.7 971.2 L255.4 976.1 L283.1 980.7 L310.8 985.3 L333.8 989.2 L345.4 991.5 L351.6 993.6 L343.1 996.9 L324.6 1001.9 L301.5 1006.5 L278.5 1010.7 L255.4 1014.6 L236.9 1018.1 L223.1 1021.5 L212.7 1025 L205.8 1029.6 L201.2 1034.2 L198.8 1038.8 L197.7 1045.8 L196.5 1052.7 L195.4 1059.6 L194.2 1066.5 L194.2 1072.3 L195.4 1076.9 L198.8 1081.5 L204.6 1086.2 L210.4 1090.8 L215 1095.4 L217.3 1100 L216.2 1103.5 L212.7 1106.9 L206.9 1110.4 L198.8 1114.5 L198.8 1115.5 L160.8 1115.5Z" fill="#5d854a"/>
<path d="M152 917.0V1124.2H362.3" fill="none" stroke="#000" stroke-width="2.5"/>
<line x1="146" x2="151" y1="926.5" y2="926.5" stroke="#333" stroke-width="2.4"/>
<text x="141" y="933.7" font-size="19.7" fill="#4d4d4d" text-anchor="end" style="letter-spacing:0.3px">80°N</text>
<line x1="146" x2="151" y1="989.7" y2="989.7" stroke="#333" stroke-width="2.4"/>
<text x="141" y="996.9" font-size="19.7" fill="#4d4d4d" text-anchor="end" style="letter-spacing:0.3px">40°N</text>
<line x1="146" x2="151" y1="1052.2" y2="1052.2" stroke="#333" stroke-width="2.4"/>
<text x="141" y="1059.4" font-size="19.7" fill="#4d4d4d" text-anchor="end" style="letter-spacing:0.3px">0°N</text>
<line x1="146" x2="151" y1="1115.0" y2="1115.0" stroke="#333" stroke-width="2.4"/>
<text x="141" y="1122.2" font-size="19.7" fill="#4d4d4d" text-anchor="end" style="letter-spacing:0.3px">40°S</text>
<line x1="160.8" x2="160.8" y1="1125.2" y2="1130.2" stroke="#333" stroke-width="2.4"/>
<text transform="translate(171.3,1144.7) rotate(-45)" font-size="19.7" fill="#4d4d4d" text-anchor="end">0.000</text>
<line x1="200.9" x2="200.9" y1="1125.2" y2="1130.2" stroke="#333" stroke-width="2.4"/>
<text transform="translate(211.4,1144.7) rotate(-45)" font-size="19.7" fill="#4d4d4d" text-anchor="end">0.005</text>
<line x1="241.1" x2="241.1" y1="1125.2" y2="1130.2" stroke="#333" stroke-width="2.4"/>
<text transform="translate(251.6,1144.7) rotate(-45)" font-size="19.7" fill="#4d4d4d" text-anchor="end">0.010</text>
<line x1="281.2" x2="281.2" y1="1125.2" y2="1130.2" stroke="#333" stroke-width="2.4"/>
<text transform="translate(291.7,1144.7) rotate(-45)" font-size="19.7" fill="#4d4d4d" text-anchor="end">0.015</text>
<line x1="321.4" x2="321.4" y1="1125.2" y2="1130.2" stroke="#333" stroke-width="2.4"/>
<text transform="translate(331.9,1144.7) rotate(-45)" font-size="19.7" fill="#4d4d4d" text-anchor="end">0.020</text>
<line x1="361.6" x2="361.6" y1="1125.2" y2="1130.2" stroke="#333" stroke-width="2.4"/>
<text transform="translate(372.1,1144.7) rotate(-45)" font-size="19.7" fill="#4d4d4d" text-anchor="end">0.025</text>
<text x="257.5" y="1207.3" font-size="23.4" fill="#000" text-anchor="middle">Density</text>
<text x="98.3" y="805.9" font-size="48" fill="#000">b</text>
<circle cx="159.6" cy="1266.6" r="3.6" fill="#000"/>
<text x="188.5" y="1274.5" font-size="23.4" fill="#000">Bradford</text>
<path d="M310 1260.6L315.2 1269.6H304.8Z" fill="#000"/>
<text x="340" y="1274.5" font-size="23.4" fill="#000">Dacal</text>
<text font-size="23.4" fill="#000" xml:space="preserve"><tspan x="540.0" y="1275.0" >Respiration</tspan> <tspan x="671.5" y="1275.0" >(</tspan><tspan x="678.3" y="1275.0" style="font-family:'Liberation Serif','DejaVu Serif',serif;font-size:25.5px">μ</tspan><tspan x="693.2" y="1275.0" >g</tspan> <tspan x="712.8" y="1275.0" >C</tspan><tspan x="729.4" y="1275.0" textLength="18.5" lengthAdjust="spacingAndGlyphs" style="letter-spacing:0;stroke:#000;stroke-width:0.5px">−</tspan><tspan x="745.6" y="1275.0" >CO</tspan><tspan x="781.2" y="1279.8" style="font-size:16.4px">2</tspan> <tspan x="797.1" y="1275.0" >dry</tspan><tspan x="829.7" y="1275.0" textLength="19.6" lengthAdjust="spacingAndGlyphs" style="letter-spacing:0;stroke:#000;stroke-width:0.5px">−</tspan><tspan x="846.4" y="1275.0" >weight</tspan> <tspan x="924.1" y="1275.0" >soil</tspan><tspan x="959.6" y="1263.8" style="font-size:16.4px">−1</tspan> <tspan x="984.6" y="1275.0" >h</tspan><tspan x="997.7" y="1263.8" style="font-size:16.4px">−1</tspan><tspan x="1015.2" y="1275.0" >)</tspan></text>
<rect x="605.2" y="1294.8" width="354.9" height="14.2" fill="url(#ylgnbu)"/>
<text x="605.4" y="1337" font-size="23.4" fill="#000" text-anchor="middle">0</text>
<line x1="704.5" x2="704.5" y1="1294.8" y2="1309" stroke="#fff" stroke-width="0.7"/>
<text x="704.5" y="1337" font-size="23.4" fill="#000" text-anchor="middle">5</text>
<line x1="802" x2="802" y1="1294.8" y2="1309" stroke="#fff" stroke-width="0.7"/>
<text x="802" y="1337" font-size="23.4" fill="#000" text-anchor="middle">10</text>
<line x1="900" x2="900" y1="1294.8" y2="1309" stroke="#fff" stroke-width="0.7"/>
<text x="900" y="1337" font-size="23.4" fill="#000" text-anchor="middle">15</text>
<rect x="72.6" y="737.6" width="1276.4" height="620.3" fill="none" stroke="#333333" stroke-width="2.7"/>
<line x1="66" x2="72" y1="765.1" y2="765.1" stroke="#333333" stroke-width="2"/>
<text x="61.8" y="773.4" font-size="23.4" fill="#4d4d4d" text-anchor="end">90 °N</text>
<line x1="66" x2="72" y1="871.2" y2="871.2" stroke="#333333" stroke-width="2"/>
<text x="61.8" y="879.5" font-size="23.4" fill="#4d4d4d" text-anchor="end">60 °N</text>
<line x1="66" x2="72" y1="977.2" y2="977.2" stroke="#333333" stroke-width="2"/>
<text x="61.8" y="985.5" font-size="23.4" fill="#4d4d4d" text-anchor="end">30 °N</text>
<line x1="66" x2="72" y1="1083.2" y2="1083.2" stroke="#333333" stroke-width="2"/>
<text x="61.8" y="1091.5" font-size="23.4" fill="#4d4d4d" text-anchor="end">0</text>
<line x1="66" x2="72" y1="1189.2" y2="1189.2" stroke="#333333" stroke-width="2"/>
<text x="61.8" y="1197.5" font-size="23.4" fill="#4d4d4d" text-anchor="end">30 °S</text>
<line x1="66" x2="72" y1="1295.2" y2="1295.2" stroke="#333333" stroke-width="2"/>
<text x="61.8" y="1303.5" font-size="23.4" fill="#4d4d4d" text-anchor="end">60 °S</text>
<line x1="148.2" x2="148.2" y1="1357.7" y2="1364.2" stroke="#333333" stroke-width="2"/>
<text x="148.2" y="1385.4" font-size="23.4" fill="#4d4d4d" text-anchor="middle">180 °W</text>
<line x1="341.0" x2="341.0" y1="1357.7" y2="1364.2" stroke="#333333" stroke-width="2"/>
<text x="341.0" y="1385.4" font-size="23.4" fill="#4d4d4d" text-anchor="middle">120 °W</text>
<line x1="533.9" x2="533.9" y1="1357.7" y2="1364.2" stroke="#333333" stroke-width="2"/>
<text x="533.9" y="1385.4" font-size="23.4" fill="#4d4d4d" text-anchor="middle">60 °W</text>
<line x1="726.7" x2="726.7" y1="1357.7" y2="1364.2" stroke="#333333" stroke-width="2"/>
<text x="726.7" y="1385.4" font-size="23.4" fill="#4d4d4d" text-anchor="middle">0</text>
<line x1="919.5" x2="919.5" y1="1357.7" y2="1364.2" stroke="#333333" stroke-width="2"/>
<text x="919.5" y="1385.4" font-size="23.4" fill="#4d4d4d" text-anchor="middle">60 °E</text>
<line x1="1112.4" x2="1112.4" y1="1357.7" y2="1364.2" stroke="#333333" stroke-width="2"/>
<text x="1112.4" y="1385.4" font-size="23.4" fill="#4d4d4d" text-anchor="middle">120 °E</text>
<line x1="1305.2" x2="1305.2" y1="1357.7" y2="1364.2" stroke="#333333" stroke-width="2"/>
<text x="1305.2" y="1385.4" font-size="23.4" fill="#4d4d4d" text-anchor="middle">180 °E</text>
</g>
</svg></body></html>
